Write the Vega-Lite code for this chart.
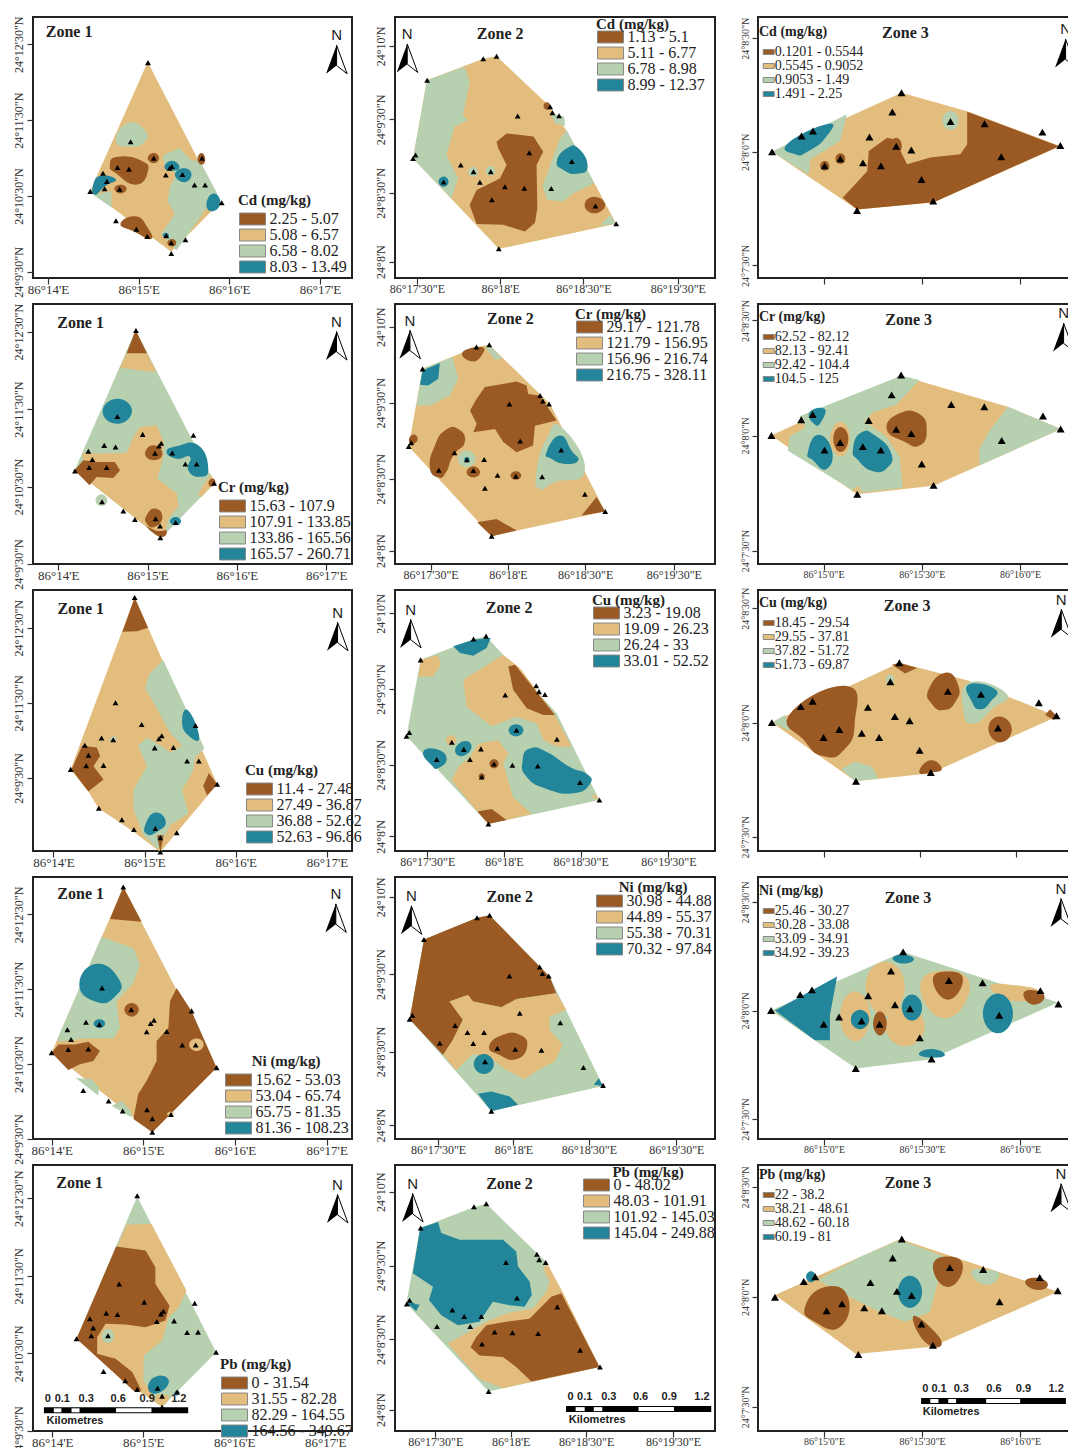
{"$schema":"https://vega.github.io/schema/vega-lite/v6.json","background":"white","padding":{"left":10,"top":15,"right":0,"bottom":0},"bounds":"flush","columns":3,"spacing":{"row":26,"column":43},"resolve":{"scale":{"fill":"independent"}},
"params":[{"name":"lx1","value":["86°14'E","86°15'E","86°16'E","86°17'E"]},{"name":"ly1","value":["24°9'30\"N","24°10'30\"N","24°11'30\"N","24°12'30\"N"]},{"name":"lx2","value":["86°17'30\"E","86°18'E","86°18'30\"E","86°19'30\"E"]},{"name":"ly2","value":["24°8'N","24°8'30\"N","24°9'30\"N","24°10'N"]},{"name":"lx3","value":["86°15'0\"E","86°15'30\"E","86°16'0\"E"]},{"name":"ly3","value":["24°7'30\"N","24°8'0\"N","24°8'30\"N"]}],
"config":{"view":{"stroke":"#222","strokeWidth":2,"fill":"white"},"range":{"category":["#9B5A23","#E2BD7D","#B7D1B0","#23859A"]},"line":{"tension":-0.6},"point":{"shape":"triangle-up","filled":true,"color":"#000","opacity":1,"size":34},"text":{"font":"Liberation Serif","fontWeight":"bold","fontSize":16,"align":"center","baseline":"middle","color":"#222"},"axis":{"grid":false,"domain":false,"title":null,"tickColor":"#333","tickSize":6,"tickWidth":1.2,"labelFont":"Liberation Serif","labelColor":"#333","labelOverlap":false,"labelFlush":false,"labelBound":false,"labelPadding":2},"axisX":{"labelFontSize":13,"labelPadding":-1},"axisY":{"labelFontSize":12,"labelAngle":270},"legend":{"orient":"none","titleFont":"Liberation Serif","titleFontWeight":"bold","titleFontSize":15,"titleColor":"#222","labelFont":"Liberation Serif","labelFontSize":16,"labelColor":"#222","symbolType":"M-2,-.92H2V.92H-2Z","symbolSize":169,"symbolStrokeColor":"#888","symbolStrokeWidth":1,"symbolOffset":6.5,"rowPadding":-1.6,"titlePadding":3,"labelOffset":9,"padding":0,"labelOverlap":false,"labelLimit":200}},
"concat":[
{"width":319,"height":261,"encoding":{"x":{"field":"x","type":"quantitative","scale":{"domain":[830.1,1041.2],"nice":false,"zero":false},"axis":{"values":[840,900,960,1020],"labelExpr":"lx1[round(datum.index*3)]"}},"y":{"field":"y","type":"quantitative","scale":{"domain":[565.2,771.6],"nice":false,"zero":false},"axis":{"values":[750,690,630,570],"labelExpr":"ly1[round(datum.index*3)]"}}},"layer":[
{"encoding":{"fill":{"field":"c","type":"nominal","scale":{"domain":[1,2,3,4]},"legend":{"legendX":205,"legendY":176,"title":"Cd (mg/kg)","labelExpr":"['2.25 - 5.07','5.08 - 6.57','6.58 - 8.02','8.03 - 13.49'][datum.value-1]"}},"detail":{"field":"s"},"order":{"value":null}},"layer":[
{"data":{"values":[{"s":1,"c":2,"x":906,"y":736},{"s":1,"c":2,"x":954,"y":625},{"s":1,"c":2,"x":921.5,"y":586},{"s":1,"c":2,"x":868,"y":634},
{"s":2,"c":3,"x":916,"y":662},{"s":2,"c":3,"x":927,"y":668},{"s":2,"c":3,"x":935,"y":658},{"s":2,"c":3,"x":940.5,"y":658},{"s":2,"c":3,"x":952,"y":632},{"s":2,"c":3,"x":925,"y":587},{"s":2,"c":3,"x":915,"y":600},{"s":2,"c":3,"x":924,"y":616},{"s":2,"c":3,"x":919,"y":626},{"s":2,"c":3,"x":921,"y":638},{"s":2,"c":3,"x":925,"y":647},{"s":2,"c":3,"x":917,"y":655},
{"s":3,"c":3,"x":870,"y":631},{"s":3,"c":3,"x":882,"y":634},{"s":3,"c":3,"x":882,"y":621}]},"mark":{"type":"line","stroke":null}},
{"data":{"values":[{"s":1,"c":3,"x":885,"y":674},{"s":1,"c":3,"x":893,"y":688},{"s":1,"c":3,"x":904,"y":682},{"s":1,"c":3,"x":904,"y":673},{"s":1,"c":3,"x":894,"y":669},
{"s":2,"c":1,"x":881,"y":654},{"s":2,"c":1,"x":886,"y":661},{"s":2,"c":1,"x":902,"y":658},{"s":2,"c":1,"x":906,"y":649},{"s":2,"c":1,"x":898,"y":639},{"s":2,"c":1,"x":885,"y":648},
{"s":3,"c":1,"x":906,"y":660},{"s":3,"c":1,"x":910,"y":664},{"s":3,"c":1,"x":913.5,"y":660},{"s":3,"c":1,"x":910,"y":656},
{"s":4,"c":1,"x":884,"y":636},{"s":4,"c":1,"x":888,"y":639},{"s":4,"c":1,"x":892,"y":636},{"s":4,"c":1,"x":888,"y":632},
{"s":5,"c":1,"x":888,"y":608},{"s":5,"c":1,"x":898,"y":614},{"s":5,"c":1,"x":906,"y":605},{"s":5,"c":1,"x":908,"y":596},{"s":5,"c":1,"x":897,"y":602},
{"s":6,"c":1,"x":919,"y":593},{"s":6,"c":1,"x":922,"y":596},{"s":6,"c":1,"x":925,"y":593},{"s":6,"c":1,"x":922,"y":590},
{"s":7,"c":1,"x":939,"y":660},{"s":7,"c":1,"x":942,"y":664},{"s":7,"c":1,"x":944,"y":658},{"s":7,"c":1,"x":941,"y":655},
{"s":8,"c":4,"x":870,"y":639},{"s":8,"c":4,"x":875,"y":646},{"s":8,"c":4,"x":885,"y":643},{"s":8,"c":4,"x":878,"y":638},{"s":8,"c":4,"x":871,"y":631},
{"s":9,"c":4,"x":917,"y":653},{"s":9,"c":4,"x":922,"y":658},{"s":9,"c":4,"x":927,"y":653},{"s":9,"c":4,"x":922,"y":650},
{"s":10,"c":4,"x":924,"y":647},{"s":10,"c":4,"x":930,"y":652},{"s":10,"c":4,"x":935,"y":647},{"s":10,"c":4,"x":930,"y":641},
{"s":11,"c":4,"x":945,"y":625},{"s":11,"c":4,"x":950,"y":632},{"s":11,"c":4,"x":954,"y":624},{"s":11,"c":4,"x":948,"y":618},
{"s":12,"c":4,"x":916,"y":599},{"s":12,"c":4,"x":918,"y":601},{"s":12,"c":4,"x":920,"y":599},{"s":12,"c":4,"x":918,"y":597}]},"mark":{"type":"line","stroke":null,"interpolate":"cardinal-closed"}}]},
{"data":{"values":[{"x":906.2,"y":735.5},{"x":894.7,"y":673},{"x":910,"y":660},{"x":942,"y":660},{"x":886,"y":652.6},{"x":893.6,"y":651.3},{"x":922,"y":653.4},{"x":920.5,"y":652},{"x":918,"y":646.6},{"x":929,"y":647},{"x":876.4,"y":648},{"x":879,"y":641.6},{"x":877.5,"y":635.8},{"x":887.4,"y":635.5},{"x":868,"y":633.7},{"x":937,"y":638.7},{"x":944,"y":638.7},{"x":955,"y":624.7},{"x":885,"y":610.5},{"x":898.5,"y":603.7},{"x":905.7,"y":598},{"x":918.3,"y":598.7},{"x":921.6,"y":593},{"x":931,"y":595.5},{"x":921.6,"y":584.5}]},"mark":"point"},
{"data":{"values":[{"x":854,"y":760,"t":"Zone 1"}]},"mark":"text","encoding":{"text":{"field":"t"}}},
{"data":{"values":[{"x":1031,"y":738}]},"layer":[{"mark":{"type":"text","text":"N","dy":-24,"font":"Liberation Sans","fontWeight":"normal","fontSize":15}},{"mark":{"type":"point","shape":"M0,-.95L-.7,.95L0,.4Z","size":900}},{"mark":{"type":"point","shape":"M0,-.95L.7,.95L0,.4Z","size":900,"filled":false,"stroke":"#000","strokeWidth":1}}]}
]},
{"width":320,"height":261,"encoding":{"x":{"field":"x","type":"quantitative","scale":{"domain":[1042.1,1157.4],"nice":false,"zero":false},"axis":{"values":[1050,1080,1110,1144],"labelExpr":"lx2[round(datum.index*3)]","labelFontSize":12}},"y":{"field":"y","type":"quantitative","scale":{"domain":[505.3,611.8],"nice":false,"zero":false},"axis":{"values":[600,570,540,512],"labelExpr":"ly2[round(datum.index*3)]"}}},"layer":[
{"encoding":{"fill":{"field":"c","type":"nominal","scale":{"domain":[1,2,3,4]},"legend":{"legendX":201,"legendY":0,"rowPadding":-3,"titlePadding":-3,"title":"Cd (mg/kg)","labelExpr":"['1.13 - 5.1','5.11 - 6.77','6.78 - 8.98','8.99 - 12.37'][datum.value-1]"}},"detail":{"field":"s"},"order":{"value":null}},"layer":[
{"data":{"values":[{"s":1,"c":2,"x":1078.7,"y":595.8},{"s":1,"c":2,"x":1098,"y":575.2},{"s":1,"c":2,"x":1103.4,"y":566.3},{"s":1,"c":2,"x":1121.8,"y":527.4},{"s":1,"c":2,"x":1079.5,"y":517.2},{"s":1,"c":2,"x":1048.6,"y":554.1},{"s":1,"c":2,"x":1053.6,"y":586},{"s":1,"c":2,"x":1073.9,"y":594.8},
{"s":2,"c":3,"x":1053.6,"y":586},{"s":2,"c":3,"x":1067.2,"y":591.5},{"s":2,"c":3,"x":1069,"y":585.3},{"s":2,"c":3,"x":1066.6,"y":571.8},{"s":2,"c":3,"x":1068.4,"y":569.7},{"s":2,"c":3,"x":1063.6,"y":567},{"s":2,"c":3,"x":1060.6,"y":555.5},{"s":2,"c":3,"x":1064.8,"y":546},{"s":2,"c":3,"x":1062.4,"y":537.8},{"s":2,"c":3,"x":1048.6,"y":554.1},
{"s":3,"c":3,"x":1101.6,"y":562.3},{"s":3,"c":3,"x":1104,"y":565.7},{"s":3,"c":3,"x":1113.9,"y":544},{"s":3,"c":3,"x":1106.4,"y":539.9},{"s":3,"c":3,"x":1102.8,"y":536.5},{"s":3,"c":3,"x":1096.8,"y":537.2},{"s":3,"c":3,"x":1095.3,"y":542.6},{"s":3,"c":3,"x":1098,"y":551.4},
{"s":4,"c":1,"x":1078.7,"y":560.9},{"s":4,"c":1,"x":1082.3,"y":564.3},{"s":4,"c":1,"x":1092,"y":563},{"s":4,"c":1,"x":1095.5,"y":556.8},{"s":4,"c":1,"x":1093.1,"y":551.4},{"s":4,"c":1,"x":1093.4,"y":533.8},{"s":4,"c":1,"x":1092.5,"y":527.7},{"s":4,"c":1,"x":1088.9,"y":524.3},{"s":4,"c":1,"x":1081.1,"y":527},{"s":4,"c":1,"x":1071.5,"y":527.3},{"s":4,"c":1,"x":1069,"y":535.1},{"s":4,"c":1,"x":1071.5,"y":541.2},{"s":4,"c":1,"x":1079.9,"y":545.9},{"s":4,"c":1,"x":1082.3,"y":551.4},{"s":4,"c":1,"x":1079.3,"y":558.2},
{"s":5,"c":3,"x":1116,"y":526.7},{"s":5,"c":3,"x":1119.6,"y":531},{"s":5,"c":3,"x":1121.8,"y":527.4},
{"s":6,"c":3,"x":1098,"y":572.5},{"s":6,"c":3,"x":1103.1,"y":571.1},{"s":6,"c":3,"x":1103.4,"y":567.4},{"s":6,"c":3,"x":1099.8,"y":568.4}]},"mark":{"type":"line","stroke":null}},
{"data":{"values":[{"s":1,"c":4,"x":1100.4,"y":552.8},{"s":1,"c":4,"x":1104,"y":558.2},{"s":1,"c":4,"x":1108.2,"y":558.2},{"s":1,"c":4,"x":1111.5,"y":550.7},{"s":1,"c":4,"x":1107.6,"y":547.8},{"s":1,"c":4,"x":1102.8,"y":549.4},
{"s":2,"c":1,"x":1110.4,"y":535.1},{"s":2,"c":1,"x":1113.9,"y":538.5},{"s":2,"c":1,"x":1117.8,"y":535.1},{"s":2,"c":1,"x":1113.9,"y":531.7},
{"s":3,"c":4,"x":1057.8,"y":544.6},{"s":3,"c":4,"x":1059.6,"y":546.7},{"s":3,"c":4,"x":1061.4,"y":544.6},{"s":3,"c":4,"x":1059.6,"y":542.5},
{"s":4,"c":3,"x":1068.5,"y":548.7},{"s":4,"c":3,"x":1070.2,"y":550.7},{"s":4,"c":3,"x":1071.9,"y":548.7},{"s":4,"c":3,"x":1070.2,"y":546.7},
{"s":5,"c":3,"x":1074.8,"y":549},{"s":5,"c":3,"x":1076.5,"y":551},{"s":5,"c":3,"x":1078.2,"y":549},{"s":5,"c":3,"x":1076.5,"y":547},
{"s":6,"c":1,"x":1095.6,"y":575.5},{"s":6,"c":1,"x":1096.8,"y":577},{"s":6,"c":1,"x":1098,"y":575.5},{"s":6,"c":1,"x":1096.8,"y":574}]},"mark":{"type":"line","stroke":null,"interpolate":"cardinal-closed"}}]},
{"data":{"values":[{"x":1078.7,"y":595.8},{"x":1073.9,"y":594.8},{"x":1053.7,"y":586},{"x":1098,"y":575.2},{"x":1098.8,"y":572.7},{"x":1101.2,"y":571.5},{"x":1086.3,"y":571.4},{"x":1090.5,"y":556.4},{"x":1049.5,"y":555.5},{"x":1048.6,"y":554.1},{"x":1105.8,"y":552.8},{"x":1065.8,"y":551.4},{"x":1070.4,"y":548.7},{"x":1076.6,"y":548.7},{"x":1072.7,"y":544.4},{"x":1059.6,"y":544.5},{"x":1081.7,"y":542.5},{"x":1088.7,"y":541.9},{"x":1098.4,"y":541.8},{"x":1077,"y":537.2},{"x":1114.3,"y":534.7},{"x":1121.8,"y":527.4},{"x":1079.5,"y":517.2}]},"mark":"point"},
{"data":{"values":[{"x":1080,"y":605,"t":"Zone 2"}]},"mark":"text","encoding":{"text":{"field":"t"}}},
{"data":{"values":[{"x":1046.5,"y":595}]},"layer":[{"mark":{"type":"text","text":"N","dy":-24,"font":"Liberation Sans","fontWeight":"normal","fontSize":15}},{"mark":{"type":"point","shape":"M0,-.95L-.7,.95L0,.4Z","size":900}},{"mark":{"type":"point","shape":"M0,-.95L.7,.95L0,.4Z","size":900,"filled":false,"stroke":"#000","strokeWidth":1}}]}
]},
{"width":320,"height":261,"encoding":{"x":{"field":"x","type":"quantitative","scale":{"domain":[879.9,977.8],"nice":false,"zero":false},"axis":{"values":[900,930,960],"labels":false}},"y":{"field":"y","type":"quantitative","scale":{"domain":[446.7,515.6],"nice":false,"zero":false},"axis":{"values":[510,480,450],"labelExpr":"ly3[round(datum.index*2)]","labelFontSize":10}}},"layer":[
{"encoding":{"fill":{"field":"c","type":"nominal","scale":{"domain":[1,2,3,4]},"legend":{"legendX":1,"legendY":8,"title":"Cd (mg/kg)","titleFontSize":14,"titlePadding":6,"labelFontSize":14,"rowPadding":0,"symbolSize":30,"symbolOffset":2.7,"labelOffset":-1,"labelExpr":"['0.1201 - 0.5544','0.5545 - 0.9052','0.9053 - 1.49','1.491 - 2.25'][datum.value-1]"}},"detail":{"field":"s"},"order":{"value":null}},"layer":[
{"data":{"values":[{"s":1,"c":2,"x":923.8,"y":495.6},{"s":1,"c":2,"x":944.4,"y":490.6},{"s":1,"c":2,"x":972.4,"y":481.5},{"s":1,"c":2,"x":933.7,"y":466.7},{"s":1,"c":2,"x":910.2,"y":464.8},{"s":1,"c":2,"x":884.2,"y":480},
{"s":2,"c":1,"x":943.9,"y":490.6},{"s":2,"c":1,"x":972,"y":481.5},{"s":2,"c":1,"x":933.7,"y":466.7},{"s":2,"c":1,"x":910.2,"y":464.8},{"s":2,"c":1,"x":905.8,"y":467.9},{"s":2,"c":1,"x":913.3,"y":474.9},{"s":2,"c":1,"x":913.8,"y":480.2},{"s":2,"c":1,"x":919.4,"y":483.7},{"s":2,"c":1,"x":923.5,"y":482.9},{"s":2,"c":1,"x":923.5,"y":480.2},{"s":2,"c":1,"x":925.5,"y":476.7},{"s":2,"c":1,"x":932.6,"y":478.5},{"s":2,"c":1,"x":941.8,"y":479.4},{"s":2,"c":1,"x":943.9,"y":482},
{"s":3,"c":3,"x":884.2,"y":480},{"s":3,"c":3,"x":907.1,"y":489.9},{"s":3,"c":3,"x":905.1,"y":482.9},{"s":3,"c":3,"x":895.9,"y":478},{"s":3,"c":3,"x":895.4,"y":474}]},"mark":{"type":"line","stroke":null}},
{"data":{"values":[{"s":1,"c":4,"x":889,"y":482.2},{"s":1,"c":4,"x":901.5,"y":487.4},{"s":1,"c":4,"x":900.5,"y":483.7},{"s":1,"c":4,"x":895.4,"y":480.2},{"s":1,"c":4,"x":891.5,"y":479.3},
{"s":2,"c":3,"x":936.3,"y":488.3},{"s":2,"c":3,"x":938.8,"y":490.8},{"s":2,"c":3,"x":941.3,"y":488.3},{"s":2,"c":3,"x":938.8,"y":485.8},
{"s":3,"c":1,"x":903.6,"y":478.2},{"s":3,"c":1,"x":905.1,"y":479.6},{"s":3,"c":1,"x":906.6,"y":478.2},{"s":3,"c":1,"x":905.1,"y":476.8},
{"s":4,"c":1,"x":898.9,"y":476.3},{"s":4,"c":1,"x":900.3,"y":477.6},{"s":4,"c":1,"x":901.7,"y":476.3},{"s":4,"c":1,"x":900.3,"y":475},
{"s":5,"c":1,"x":920.5,"y":481.5},{"s":5,"c":1,"x":922.2,"y":483.7},{"s":5,"c":1,"x":923.9,"y":481.5},{"s":5,"c":1,"x":922.2,"y":479.8}]},"mark":{"type":"line","stroke":null,"interpolate":"cardinal-closed"}}]},
{"data":{"values":[{"x":923.8,"y":495.6},{"x":921,"y":490.5},{"x":938.8,"y":488},{"x":949.2,"y":487.4},{"x":896.7,"y":485.5},{"x":893.2,"y":484.2},{"x":914,"y":483.9},{"x":966.9,"y":485.2},{"x":922.2,"y":481.5},{"x":926.8,"y":480.5},{"x":884.2,"y":480},{"x":972.4,"y":481.7},{"x":905.1,"y":478.2},{"x":912,"y":477.1},{"x":900.3,"y":476.3},{"x":917.5,"y":476.3},{"x":954.3,"y":478.7},{"x":929.9,"y":472.7},{"x":933.5,"y":467},{"x":910.2,"y":464.5}]},"mark":{"type":"point","size":64}},
{"data":{"values":[{"x":925,"y":511.5,"t":"Zone 3"}]},"mark":"text","encoding":{"text":{"field":"t"}}},
{"data":{"values":[{"x":974,"y":506}]},"layer":[{"mark":{"type":"text","text":"N","dy":-24,"font":"Liberation Sans","fontWeight":"normal","fontSize":15}},{"mark":{"type":"point","shape":"M0,-.95L-.7,.95L0,.4Z","size":900}},{"mark":{"type":"point","shape":"M0,-.95L.7,.95L0,.4Z","size":900,"filled":false,"stroke":"#000","strokeWidth":1}}]}
]},
{"width":319,"height":260,"encoding":{"x":{"field":"x","type":"quantitative","scale":{"domain":[823,1037.4],"nice":false,"zero":false},"axis":{"values":[840,900,960,1020],"labelExpr":"lx1[round(datum.index*3)]"}},"y":{"field":"y","type":"quantitative","scale":{"domain":[570,771.4],"nice":false,"zero":false},"axis":{"values":[750,690,630,570],"labelExpr":"ly1[round(datum.index*3)]"}}},"layer":[
{"encoding":{"fill":{"field":"c","type":"nominal","scale":{"domain":[1,2,3,4]},"legend":{"legendX":185,"legendY":176,"title":"Cr (mg/kg)","labelExpr":"['15.63 - 107.9','107.91 - 133.85','133.86 - 165.56','165.57 - 260.71'][datum.value-1]"}},"detail":{"field":"s"},"order":{"value":null}},"layer":[
{"data":{"values":[{"s":1,"c":3,"x":892,"y":751},{"s":1,"c":3,"x":945,"y":632.8},{"s":1,"c":3,"x":909,"y":590},{"s":1,"c":3,"x":851,"y":642.6},
{"s":2,"c":1,"x":892,"y":751},{"s":2,"c":1,"x":899.7,"y":733},{"s":2,"c":1,"x":885.8,"y":733},
{"s":3,"c":2,"x":885.8,"y":733},{"s":3,"c":2,"x":899.7,"y":733},{"s":3,"c":2,"x":906,"y":718.6},{"s":3,"c":2,"x":881.5,"y":722},
{"s":4,"c":2,"x":894.9,"y":676.1},{"s":4,"c":2,"x":906,"y":677.4},{"s":4,"c":2,"x":910.6,"y":665.8},{"s":4,"c":2,"x":910.6,"y":653},{"s":4,"c":2,"x":906.6,"y":636.2},{"s":4,"c":2,"x":919.6,"y":624.6},{"s":4,"c":2,"x":920.7,"y":614.3},{"s":4,"c":2,"x":914,"y":605.3},{"s":4,"c":2,"x":911.7,"y":593},{"s":4,"c":2,"x":908.8,"y":590},{"s":4,"c":2,"x":861,"y":633.6},{"s":4,"c":2,"x":855.7,"y":655.5},{"s":4,"c":2,"x":868,"y":655.5},{"s":4,"c":2,"x":886,"y":656},{"s":4,"c":2,"x":890.4,"y":668.4},
{"s":5,"c":2,"x":942.4,"y":640},{"s":5,"c":2,"x":945,"y":632.8},{"s":5,"c":2,"x":936,"y":621.5},{"s":5,"c":2,"x":934,"y":624.6},
{"s":6,"c":1,"x":851,"y":642.6},{"s":6,"c":1,"x":856.8,"y":650.3},{"s":6,"c":1,"x":865.8,"y":649},{"s":6,"c":1,"x":878,"y":649},{"s":6,"c":1,"x":881.5,"y":642.6},{"s":6,"c":1,"x":877,"y":636.6},{"s":6,"c":1,"x":865.8,"y":637.3},{"s":6,"c":1,"x":861,"y":631}]},"mark":{"type":"line","stroke":null}},
{"data":{"values":[{"s":1,"c":4,"x":869.8,"y":687.7},{"s":1,"c":4,"x":879.2,"y":698},{"s":1,"c":4,"x":889.5,"y":689},{"s":1,"c":4,"x":880,"y":678.6},
{"s":2,"c":1,"x":898.3,"y":655.5},{"s":2,"c":1,"x":903.9,"y":662},{"s":2,"c":1,"x":910,"y":655.5},{"s":2,"c":1,"x":904.3,"y":650.3},
{"s":3,"c":4,"x":912.8,"y":656.8},{"s":3,"c":4,"x":919.6,"y":661.2},{"s":3,"c":4,"x":934,"y":662},{"s":3,"c":4,"x":940.8,"y":644},{"s":3,"c":4,"x":935.2,"y":637.5},{"s":3,"c":4,"x":927.4,"y":642.6},{"s":3,"c":4,"x":928.5,"y":653},{"s":3,"c":4,"x":919.6,"y":651.6},
{"s":4,"c":1,"x":899.4,"y":607.9},{"s":4,"c":1,"x":905,"y":613},{"s":4,"c":1,"x":910,"y":606.6},{"s":4,"c":1,"x":905,"y":598.8},{"s":4,"c":1,"x":899.4,"y":601.4},
{"s":5,"c":1,"x":899.4,"y":598.9},{"s":5,"c":1,"x":906,"y":595.8},{"s":5,"c":1,"x":912.8,"y":595.8},{"s":5,"c":1,"x":908.8,"y":591},
{"s":6,"c":4,"x":915,"y":603.2},{"s":6,"c":4,"x":918.9,"y":606.5},{"s":6,"c":4,"x":922.5,"y":603.2},{"s":6,"c":4,"x":918.9,"y":600},
{"s":7,"c":3,"x":865,"y":619},{"s":7,"c":3,"x":869,"y":624},{"s":7,"c":3,"x":873,"y":619},{"s":7,"c":3,"x":869,"y":615},
{"s":8,"c":1,"x":941,"y":633.6},{"s":8,"c":1,"x":944,"y":636.2},{"s":8,"c":1,"x":945.5,"y":632.5},{"s":8,"c":1,"x":942.5,"y":630}]},"mark":{"type":"line","stroke":null,"interpolate":"cardinal-closed"}}]},
{"data":{"values":[{"x":892.2,"y":750.8},{"x":896.7,"y":670.4},{"x":930.8,"y":669.7},{"x":870.9,"y":661.9},{"x":878.5,"y":660.6},{"x":909.2,"y":663.5},{"x":907.7,"y":661.4},{"x":860.2,"y":657.3},{"x":862.9,"y":650.9},{"x":916.6,"y":656},{"x":905,"y":655.8},{"x":860.8,"y":644.7},{"x":872.5,"y":644.7},{"x":925.4,"y":647.5},{"x":933,"y":647.5},{"x":851.2,"y":642.1},{"x":944.7,"y":632.6},{"x":879.7,"y":684.3},{"x":869.4,"y":618.2},{"x":883.7,"y":611},{"x":891.5,"y":604.5},{"x":905.4,"y":605},{"x":908.4,"y":599.4},{"x":918.9,"y":602.2},{"x":908.6,"y":590.4}]},"mark":"point"},
{"data":{"values":[{"x":855,"y":757,"t":"Zone 1"}]},"mark":"text","encoding":{"text":{"field":"t"}}},
{"data":{"values":[{"x":1027,"y":739}]},"layer":[{"mark":{"type":"text","text":"N","dy":-24,"font":"Liberation Sans","fontWeight":"normal","fontSize":15}},{"mark":{"type":"point","shape":"M0,-.95L-.7,.95L0,.4Z","size":900}},{"mark":{"type":"point","shape":"M0,-.95L.7,.95L0,.4Z","size":900,"filled":false,"stroke":"#000","strokeWidth":1}}]}
]},
{"width":320,"height":260,"encoding":{"x":{"field":"x","type":"quantitative","scale":{"domain":[1036.2,1160.4],"nice":false,"zero":false},"axis":{"values":[1050,1080,1110,1144.4],"labelExpr":"lx2[round(datum.index*3)]","labelFontSize":12}},"y":{"field":"y","type":"quantitative","scale":{"domain":[506.4,609],"nice":false,"zero":false},"axis":{"values":[600,570,540,511.7],"labelExpr":"ly2[round(datum.index*3)]"}}},"layer":[
{"encoding":{"fill":{"field":"c","type":"nominal","scale":{"domain":[1,2,3,4]},"legend":{"legendX":180,"legendY":3,"rowPadding":-3,"titlePadding":-3,"title":"Cr (mg/kg)","labelExpr":"['29.17 - 121.78','121.79 - 156.95','156.96 - 216.74','216.75 - 328.11'][datum.value-1]"}},"detail":{"field":"s"},"order":{"value":null}},"layer":[
{"data":{"values":[{"s":1,"c":2,"x":1072.8,"y":592.9},{"s":1,"c":2,"x":1096.3,"y":569.6},{"s":1,"c":2,"x":1117.8,"y":527.1},{"s":1,"c":2,"x":1073.7,"y":517.4},{"s":1,"c":2,"x":1041.5,"y":552.8},{"s":1,"c":2,"x":1046.9,"y":583.4},{"s":1,"c":2,"x":1067.8,"y":592},
{"s":2,"c":3,"x":1071.1,"y":592},{"s":2,"c":3,"x":1072.8,"y":592.9},{"s":2,"c":3,"x":1077.9,"y":587.4},{"s":2,"c":3,"x":1075,"y":587.1},
{"s":3,"c":3,"x":1046.9,"y":583.4},{"s":3,"c":3,"x":1058.5,"y":588},{"s":3,"c":3,"x":1060.7,"y":579.5},{"s":3,"c":3,"x":1057.5,"y":572.9},{"s":3,"c":3,"x":1049.7,"y":568.9},{"s":3,"c":3,"x":1044.6,"y":568.9},
{"s":4,"c":4,"x":1046.9,"y":582.8},{"s":4,"c":4,"x":1053.6,"y":585.7},{"s":4,"c":4,"x":1053,"y":579.5},{"s":4,"c":4,"x":1049.1,"y":576.8},{"s":4,"c":4,"x":1045.9,"y":577.1},
{"s":5,"c":1,"x":1071.1,"y":576.2},{"s":5,"c":1,"x":1083.4,"y":578.4},{"s":5,"c":1,"x":1087.3,"y":576.8},{"s":5,"c":1,"x":1087.9,"y":573.5},{"s":5,"c":1,"x":1092.4,"y":572.9},{"s":5,"c":1,"x":1098.9,"y":563},{"s":5,"c":1,"x":1090.5,"y":561},{"s":5,"c":1,"x":1089.8,"y":553.2},{"s":5,"c":1,"x":1083.4,"y":550.5},{"s":5,"c":1,"x":1078.2,"y":554.5},{"s":5,"c":1,"x":1075,"y":559.7},{"s":5,"c":1,"x":1066.6,"y":558.4},{"s":5,"c":1,"x":1067.9,"y":561.7},{"s":5,"c":1,"x":1065.3,"y":567},{"s":5,"c":1,"x":1067.9,"y":571.6},
{"s":6,"c":1,"x":1108.6,"y":525.5},{"s":6,"c":1,"x":1114.4,"y":532.8},{"s":6,"c":1,"x":1117.8,"y":527.1},
{"s":7,"c":1,"x":1068.1,"y":522.9},{"s":7,"c":1,"x":1075.6,"y":524.2},{"s":7,"c":1,"x":1083.4,"y":519.6},{"s":7,"c":1,"x":1073.7,"y":517.4}]},"mark":{"type":"line","stroke":null}},
{"data":{"values":[{"s":1,"c":1,"x":1062.4,"y":590},{"s":1,"c":1,"x":1069.8,"y":592},{"s":1,"c":1,"x":1069.8,"y":588.7},{"s":1,"c":1,"x":1065.9,"y":586.4},
{"s":2,"c":1,"x":1051.7,"y":553.2},{"s":2,"c":1,"x":1055.6,"y":559.1},{"s":2,"c":1,"x":1060.7,"y":559.7},{"s":2,"c":1,"x":1063.3,"y":554.5},{"s":2,"c":1,"x":1058.8,"y":549.2},{"s":2,"c":1,"x":1056,"y":542.6},{"s":2,"c":1,"x":1053,"y":540.6},{"s":2,"c":1,"x":1049.7,"y":544.6},
{"s":3,"c":3,"x":1091.1,"y":542.6},{"s":3,"c":3,"x":1095,"y":555.8},{"s":3,"c":3,"x":1100.8,"y":560.4},{"s":3,"c":3,"x":1109.9,"y":543.3},{"s":3,"c":3,"x":1098.2,"y":538.7},{"s":3,"c":3,"x":1092.4,"y":536},
{"s":4,"c":4,"x":1095,"y":550.5},{"s":4,"c":4,"x":1100.2,"y":557.1},{"s":4,"c":4,"x":1104.7,"y":551.2},{"s":4,"c":4,"x":1107.3,"y":547.2},{"s":4,"c":4,"x":1102.1,"y":545.9},{"s":4,"c":4,"x":1096.9,"y":547.9},
{"s":5,"c":3,"x":1060.5,"y":547.9},{"s":5,"c":3,"x":1064,"y":551.2},{"s":5,"c":3,"x":1067.5,"y":547.9},{"s":5,"c":3,"x":1064,"y":544.6},
{"s":6,"c":4,"x":1063,"y":547.5},{"s":6,"c":4,"x":1064.1,"y":548.6},{"s":6,"c":4,"x":1065.2,"y":547.5},{"s":6,"c":4,"x":1064.1,"y":546.4},
{"s":7,"c":1,"x":1064,"y":542.6},{"s":7,"c":1,"x":1066.6,"y":545},{"s":7,"c":1,"x":1069.2,"y":542.6},{"s":7,"c":1,"x":1066.6,"y":540.6},
{"s":8,"c":1,"x":1081,"y":541.3},{"s":8,"c":1,"x":1083.1,"y":543},{"s":8,"c":1,"x":1085.2,"y":541.3},{"s":8,"c":1,"x":1083.1,"y":539.6},
{"s":9,"c":1,"x":1041.6,"y":555.5},{"s":9,"c":1,"x":1043.5,"y":557.5},{"s":9,"c":1,"x":1045,"y":555.5},{"s":9,"c":1,"x":1043,"y":553.8}]},"mark":{"type":"line","stroke":null,"interpolate":"cardinal-closed"}}]},
{"data":{"values":[{"x":1072.8,"y":592.9},{"x":1067.8,"y":592},{"x":1046.9,"y":583.4},{"x":1092.5,"y":572.9},{"x":1093.6,"y":570.7},{"x":1096,"y":569.5},{"x":1080.6,"y":569.5},{"x":1084.8,"y":554.9},{"x":1042.5,"y":554.3},{"x":1041.5,"y":552.8},{"x":1100.7,"y":551.4},{"x":1059.3,"y":550.3},{"x":1064.1,"y":547.5},{"x":1070.8,"y":547.6},{"x":1053.2,"y":543.4},{"x":1066.6,"y":543.3},{"x":1076,"y":541.4},{"x":1083.1,"y":541},{"x":1093.3,"y":540.8},{"x":1071.1,"y":536.3},{"x":1109.9,"y":533.9},{"x":1117.8,"y":527.1},{"x":1073.7,"y":517.4}]},"mark":"point"},
{"data":{"values":[{"x":1081,"y":603,"t":"Zone 2"}]},"mark":"text","encoding":{"text":{"field":"t"}}},
{"data":{"values":[{"x":1042,"y":593}]},"layer":[{"mark":{"type":"text","text":"N","dy":-24,"font":"Liberation Sans","fontWeight":"normal","fontSize":15}},{"mark":{"type":"point","shape":"M0,-.95L-.7,.95L0,.4Z","size":900}},{"mark":{"type":"point","shape":"M0,-.95L.7,.95L0,.4Z","size":900,"filled":false,"stroke":"#000","strokeWidth":1}}]}
]},
{"width":320,"height":260,"encoding":{"x":{"field":"x","type":"quantitative","scale":{"domain":[880,977.7],"nice":false,"zero":false},"axis":{"values":[900,930,960],"labelExpr":"lx3[round(datum.index*2)]","labelFontSize":10}},"y":{"field":"y","type":"quantitative","scale":{"domain":[446.5,514.3],"nice":false,"zero":false},"axis":{"values":[510,480,450],"labelExpr":"ly3[round(datum.index*2)]","labelFontSize":10}}},"layer":[
{"encoding":{"fill":{"field":"c","type":"nominal","scale":{"domain":[1,2,3,4]},"legend":{"legendX":1,"legendY":6,"title":"Cr (mg/kg)","titleFontSize":14,"titlePadding":6,"labelFontSize":14,"rowPadding":0,"symbolSize":30,"symbolOffset":2.7,"labelOffset":-1,"labelExpr":"['62.52 - 82.12','82.13 - 92.41','92.42 - 104.4','104.5 - 125'][datum.value-1]"}},"detail":{"field":"s"},"order":{"value":null}},"layer":[
{"data":{"values":[{"s":1,"c":2,"x":923.7,"y":495.6},{"s":1,"c":2,"x":956.3,"y":487.5},{"s":1,"c":2,"x":972.5,"y":481.7},{"s":1,"c":2,"x":933.6,"y":466.9},{"s":1,"c":2,"x":910.3,"y":464.7},{"s":1,"c":2,"x":884,"y":480},
{"s":2,"c":3,"x":923.7,"y":495.6},{"s":2,"c":3,"x":929.3,"y":494.5},{"s":2,"c":3,"x":922.2,"y":488},{"s":2,"c":3,"x":915,"y":486},{"s":2,"c":3,"x":912.5,"y":483.6},{"s":2,"c":3,"x":919.1,"y":479.8},{"s":2,"c":3,"x":923.2,"y":474.5},{"s":2,"c":3,"x":924.2,"y":466.4},{"s":2,"c":3,"x":910.3,"y":465},{"s":2,"c":3,"x":889.1,"y":476},{"s":2,"c":3,"x":889.6,"y":479.8},{"s":2,"c":3,"x":894.5,"y":482},{"s":2,"c":3,"x":892.7,"y":485},
{"s":3,"c":3,"x":956.3,"y":487.5},{"s":3,"c":3,"x":972.5,"y":481.7},{"s":3,"c":3,"x":947.6,"y":472.2},{"s":3,"c":3,"x":947.6,"y":476.5},{"s":3,"c":3,"x":950.6,"y":481.2},
{"s":4,"c":2,"x":908.4,"y":465.5},{"s":4,"c":2,"x":910.5,"y":467},{"s":4,"c":2,"x":912,"y":465.2}]},"mark":{"type":"line","stroke":null}},
{"data":{"values":[{"s":1,"c":4,"x":895.7,"y":486},{"s":1,"c":4,"x":900.3,"y":487},{"s":1,"c":4,"x":899.3,"y":483.6},{"s":1,"c":4,"x":897.3,"y":482.9},
{"s":2,"c":4,"x":895.2,"y":475.5},{"s":2,"c":4,"x":898.3,"y":480.2},{"s":2,"c":4,"x":902.6,"y":476},{"s":2,"c":4,"x":900.8,"y":471.2},{"s":2,"c":4,"x":896.7,"y":473.6},
{"s":3,"c":2,"x":905.2,"y":483.6},{"s":3,"c":2,"x":908.1,"y":479.1},{"s":3,"c":2,"x":905.2,"y":474.5},{"s":3,"c":2,"x":902,"y":479.1},
{"s":4,"c":1,"x":905.2,"y":482.2},{"s":4,"c":1,"x":907.6,"y":479.1},{"s":4,"c":1,"x":905.2,"y":475.7},{"s":4,"c":1,"x":903,"y":479.1},
{"s":5,"c":4,"x":909,"y":476.5},{"s":5,"c":4,"x":911.5,"y":480.8},{"s":5,"c":4,"x":916.1,"y":479.8},{"s":5,"c":4,"x":920.6,"y":475.5},{"s":5,"c":4,"x":919.6,"y":471.7},{"s":5,"c":4,"x":915.1,"y":470.7},{"s":5,"c":4,"x":910.5,"y":473.6},
{"s":6,"c":1,"x":919.3,"y":481.7},{"s":6,"c":1,"x":923.2,"y":485.8},{"s":6,"c":1,"x":929.3,"y":485.6},{"s":6,"c":1,"x":931.5,"y":481.2},{"s":6,"c":1,"x":929.3,"y":477.4},{"s":6,"c":1,"x":924.7,"y":478.4}]},"mark":{"type":"line","stroke":null,"interpolate":"cardinal-closed"}}]},
{"data":{"values":[{"x":923.7,"y":495.8},{"x":920.8,"y":490.6},{"x":939,"y":488.1},{"x":949.1,"y":487.5},{"x":896.7,"y":485.5},{"x":893.2,"y":484.1},{"x":913.8,"y":483.9},{"x":967,"y":485.1},{"x":922.2,"y":481.6},{"x":926.8,"y":480.5},{"x":884.1,"y":480},{"x":972.4,"y":481.7},{"x":905.1,"y":478.2},{"x":912,"y":477.1},{"x":900.3,"y":476.2},{"x":917.5,"y":476.2},{"x":954.4,"y":478.7},{"x":930,"y":472.6},{"x":933.6,"y":467},{"x":910.3,"y":464.7}]},"mark":{"type":"point","size":64}},
{"data":{"values":[{"x":926,"y":510,"t":"Zone 3"}]},"mark":"text","encoding":{"text":{"field":"t"}}},
{"data":{"values":[{"x":973.3,"y":505.6}]},"layer":[{"mark":{"type":"text","text":"N","dy":-24,"font":"Liberation Sans","fontWeight":"normal","fontSize":15}},{"mark":{"type":"point","shape":"M0,-.95L-.7,.95L0,.4Z","size":900}},{"mark":{"type":"point","shape":"M0,-.95L.7,.95L0,.4Z","size":900,"filled":false,"stroke":"#000","strokeWidth":1}}]}
]},
{"width":319,"height":261,"encoding":{"x":{"field":"x","type":"quantitative","scale":{"domain":[826.6,1036.5],"nice":false,"zero":false},"axis":{"values":[840,900,960,1020],"labelExpr":"lx1[round(datum.index*3)]"}},"y":{"field":"y","type":"quantitative","scale":{"domain":[571.7,780.2],"nice":false,"zero":false},"axis":{"values":[750,690,630,570],"labelExpr":"ly1[round(datum.index*3)]"}}},"layer":[
{"encoding":{"fill":{"field":"c","type":"nominal","scale":{"domain":[1,2,3,4]},"legend":{"legendX":212,"legendY":173,"title":"Cu (mg/kg)","labelExpr":"['11.4 - 27.48','27.49 - 36.87','36.88 - 52.62','52.63 - 96.86'][datum.value-1]"}},"detail":{"field":"s"},"order":{"value":null}},"layer":[
{"data":{"values":[{"s":1,"c":2,"x":893.5,"y":774.2},{"s":1,"c":2,"x":947.8,"y":625},{"s":1,"c":2,"x":910.4,"y":570.9},{"s":1,"c":2,"x":892.8,"y":587},{"s":1,"c":2,"x":869.7,"y":605.9},{"s":1,"c":2,"x":863,"y":619.3},{"s":1,"c":2,"x":851.4,"y":636.9},
{"s":2,"c":1,"x":893.5,"y":774.2},{"s":2,"c":1,"x":902.3,"y":750},{"s":2,"c":1,"x":895,"y":747.3},{"s":2,"c":1,"x":885.5,"y":746.8},
{"s":3,"c":3,"x":912.2,"y":724.4},{"s":3,"c":3,"x":939.4,"y":653.8},{"s":3,"c":3,"x":933.5,"y":646.3},{"s":3,"c":3,"x":931.3,"y":634},{"s":3,"c":3,"x":924.7,"y":620.7},{"s":3,"c":3,"x":929,"y":601.8},{"s":3,"c":3,"x":917,"y":592.4},{"s":3,"c":3,"x":908.6,"y":573.5},{"s":3,"c":3,"x":899.4,"y":584.3},{"s":3,"c":3,"x":892.8,"y":604.5},{"s":3,"c":3,"x":892.8,"y":620.7},{"s":3,"c":3,"x":901.6,"y":639.5},{"s":3,"c":3,"x":895.7,"y":655.7},{"s":3,"c":3,"x":901.6,"y":662.4},{"s":3,"c":3,"x":910.4,"y":655.7},{"s":3,"c":3,"x":917,"y":650.3},{"s":3,"c":3,"x":924.7,"y":655.7},{"s":3,"c":3,"x":915.9,"y":667.8},{"s":3,"c":3,"x":908.2,"y":685.3},{"s":3,"c":3,"x":900.5,"y":701.5},{"s":3,"c":3,"x":902.7,"y":712.3},
{"s":4,"c":1,"x":852,"y":636.9},{"s":4,"c":1,"x":858.9,"y":655.7},{"s":4,"c":1,"x":868.6,"y":654.3},{"s":4,"c":1,"x":870.8,"y":647.6},{"s":4,"c":1,"x":866.4,"y":639.5},{"s":4,"c":1,"x":873,"y":628.8},{"s":4,"c":1,"x":863,"y":619.3},
{"s":5,"c":1,"x":947.8,"y":625},{"s":5,"c":1,"x":942.3,"y":634},{"s":5,"c":1,"x":938.6,"y":623.6},{"s":5,"c":1,"x":941.2,"y":616},
{"s":6,"c":1,"x":908.2,"y":584.3},{"s":6,"c":1,"x":912.6,"y":584.3},{"s":6,"c":1,"x":910.4,"y":570.9}]},"mark":{"type":"line","stroke":null}},
{"data":{"values":[{"s":1,"c":4,"x":924.7,"y":674.6},{"s":1,"c":4,"x":928.7,"y":684},{"s":1,"c":4,"x":936,"y":662.4},{"s":1,"c":4,"x":929,"y":663.8},
{"s":2,"c":4,"x":900.5,"y":592.4},{"s":2,"c":4,"x":907,"y":602.4},{"s":2,"c":4,"x":914,"y":595},{"s":2,"c":4,"x":908.2,"y":587},{"s":2,"c":4,"x":901.6,"y":585},
{"s":3,"c":3,"x":877.5,"y":661.1},{"s":3,"c":3,"x":879.6,"y":663.5},{"s":3,"c":3,"x":881.7,"y":661.1},{"s":3,"c":3,"x":879.6,"y":658.9}]},"mark":{"type":"line","stroke":null,"interpolate":"cardinal-closed"}}]},
{"data":{"values":[{"x":893.5,"y":774.2},{"x":880.9,"y":690.2},{"x":898.1,"y":672.7},{"x":933.5,"y":671.9},{"x":871.7,"y":661.9},{"x":879.4,"y":660.6},{"x":911.3,"y":663.8},{"x":909.5,"y":661.4},{"x":860.7,"y":656.2},{"x":863.1,"y":648.2},{"x":906.7,"y":654.1},{"x":919,"y":654.4},{"x":928,"y":643.6},{"x":935.7,"y":643.6},{"x":861.6,"y":639.8},{"x":873,"y":640.1},{"x":851.4,"y":636.9},{"x":947.8,"y":625},{"x":869.9,"y":605.9},{"x":885.1,"y":596.7},{"x":893,"y":588.9},{"x":907.1,"y":589.7},{"x":910.4,"y":582.4},{"x":921.2,"y":586.2},{"x":910.4,"y":570.9}]},"mark":"point"},
{"data":{"values":[{"x":858,"y":765,"t":"Zone 1"}]},"mark":"text","encoding":{"text":{"field":"t"}}},
{"data":{"values":[{"x":1027,"y":743}]},"layer":[{"mark":{"type":"text","text":"N","dy":-24,"font":"Liberation Sans","fontWeight":"normal","fontSize":15}},{"mark":{"type":"point","shape":"M0,-.95L-.7,.95L0,.4Z","size":900}},{"mark":{"type":"point","shape":"M0,-.95L.7,.95L0,.4Z","size":900,"filled":false,"stroke":"#000","strokeWidth":1}}]}
]},
{"width":320,"height":261,"encoding":{"x":{"field":"x","type":"quantitative","scale":{"domain":[1037.4,1162.5],"nice":false,"zero":false},"axis":{"values":[1050,1080,1110,1144.3],"labelExpr":"lx2[round(datum.index*3)]","labelFontSize":12}},"y":{"field":"y","type":"quantitative","scale":{"domain":[505.8,609.3],"nice":false,"zero":false},"axis":{"values":[600,570,540,511.6],"labelExpr":"ly2[round(datum.index*3)]"}}},"layer":[
{"encoding":{"fill":{"field":"c","type":"nominal","scale":{"domain":[1,2,3,4]},"legend":{"legendX":197,"legendY":3,"rowPadding":-3,"titlePadding":-3,"title":"Cu (mg/kg)","labelExpr":"['3.23 - 19.08','19.09 - 26.23','26.24 - 33','33.01 - 52.52'][datum.value-1]"}},"detail":{"field":"s"},"order":{"value":null}},"layer":[
{"data":{"values":[{"s":1,"c":3,"x":1073,"y":591},{"s":1,"c":3,"x":1100.6,"y":560.4},{"s":1,"c":3,"x":1117.3,"y":526},{"s":1,"c":3,"x":1073.9,"y":516.5},{"s":1,"c":3,"x":1041.9,"y":551.3},{"s":1,"c":3,"x":1047.4,"y":581.6},{"s":1,"c":3,"x":1068.3,"y":589.9},
{"s":2,"c":2,"x":1064.1,"y":573.7},{"s":2,"c":2,"x":1079.7,"y":583.6},{"s":2,"c":2,"x":1086.3,"y":578.3},{"s":2,"c":2,"x":1099.9,"y":559.7},{"s":2,"c":2,"x":1106.4,"y":547.1},{"s":2,"c":2,"x":1100.6,"y":547.1},{"s":2,"c":2,"x":1095.4,"y":549.8},{"s":2,"c":2,"x":1092.8,"y":556.4},{"s":2,"c":2,"x":1085,"y":559},{"s":2,"c":2,"x":1075.2,"y":555.3},{"s":2,"c":2,"x":1065.4,"y":563},
{"s":3,"c":1,"x":1081.7,"y":579},{"s":3,"c":1,"x":1084.3,"y":579.7},{"s":3,"c":1,"x":1099.9,"y":559.7},{"s":3,"c":1,"x":1095.4,"y":559.7},{"s":3,"c":1,"x":1088.9,"y":562.4},{"s":3,"c":1,"x":1083.6,"y":569.7},
{"s":4,"c":2,"x":1047.4,"y":581.4},{"s":4,"c":2,"x":1054.3,"y":583.6},{"s":4,"c":2,"x":1055.2,"y":579.6},{"s":4,"c":2,"x":1052.3,"y":575},{"s":4,"c":2,"x":1046.5,"y":575},
{"s":5,"c":4,"x":1060.2,"y":587},{"s":5,"c":4,"x":1068,"y":589.6},{"s":5,"c":4,"x":1074.8,"y":590.3},{"s":5,"c":4,"x":1073.2,"y":586.3},{"s":5,"c":4,"x":1068,"y":583.2},{"s":5,"c":4,"x":1062.8,"y":584.3},
{"s":6,"c":2,"x":1070,"y":548.4},{"s":6,"c":2,"x":1077.8,"y":549.7},{"s":6,"c":2,"x":1081.7,"y":544.4},{"s":6,"c":2,"x":1079.7,"y":540.4},{"s":6,"c":2,"x":1083.6,"y":527.1},{"s":6,"c":2,"x":1090.8,"y":520.5},{"s":6,"c":2,"x":1079.7,"y":517.8},{"s":6,"c":2,"x":1069.3,"y":521.8},{"s":6,"c":2,"x":1059.5,"y":533.8},{"s":6,"c":2,"x":1062.1,"y":539.1},{"s":6,"c":2,"x":1066.7,"y":543.1},
{"s":7,"c":1,"x":1069.6,"y":521.5},{"s":7,"c":1,"x":1075.2,"y":522.5},{"s":7,"c":1,"x":1081,"y":518.1},{"s":7,"c":1,"x":1073.9,"y":516.5},
{"s":8,"c":2,"x":1114.3,"y":527.1},{"s":8,"c":2,"x":1115.6,"y":528.4},{"s":8,"c":2,"x":1117.3,"y":526}]},"mark":{"type":"line","stroke":null}},
{"data":{"values":[{"s":1,"c":4,"x":1087.3,"y":541.7},{"s":1,"c":4,"x":1090.2,"y":546.4},{"s":1,"c":4,"x":1096.7,"y":545.1},{"s":1,"c":4,"x":1105.8,"y":539.1},{"s":1,"c":4,"x":1112.3,"y":536.4},{"s":1,"c":4,"x":1113.6,"y":532.4},{"s":1,"c":4,"x":1107.1,"y":528.7},{"s":1,"c":4,"x":1096.7,"y":530.4},{"s":1,"c":4,"x":1088.9,"y":535.1},
{"s":2,"c":4,"x":1081.8,"y":553.7},{"s":2,"c":4,"x":1084.7,"y":556.1},{"s":2,"c":4,"x":1087.6,"y":553.7},{"s":2,"c":4,"x":1084.7,"y":551.3},
{"s":3,"c":4,"x":1061,"y":546.4},{"s":3,"c":4,"x":1065,"y":549.4},{"s":3,"c":4,"x":1067.2,"y":546.4},{"s":3,"c":4,"x":1063.2,"y":543.4},
{"s":4,"c":4,"x":1048.4,"y":545},{"s":4,"c":4,"x":1053.7,"y":546.1},{"s":4,"c":4,"x":1057.6,"y":542.4},{"s":4,"c":4,"x":1054.3,"y":538.7},{"s":4,"c":4,"x":1051.7,"y":539.8},
{"s":5,"c":2,"x":1057.3,"y":549.7},{"s":5,"c":2,"x":1059.3,"y":551.7},{"s":5,"c":2,"x":1061.3,"y":549.7},{"s":5,"c":2,"x":1059.3,"y":547.7},
{"s":6,"c":1,"x":1074.3,"y":540.4},{"s":6,"c":1,"x":1076.1,"y":542.2},{"s":6,"c":1,"x":1077.9,"y":540.4},{"s":6,"c":1,"x":1076.1,"y":538.6},
{"s":7,"c":1,"x":1070.1,"y":535.4},{"s":7,"c":1,"x":1071.3,"y":536.6},{"s":7,"c":1,"x":1072.5,"y":535.4},{"s":7,"c":1,"x":1071.3,"y":534.2}]},"mark":{"type":"line","stroke":null,"interpolate":"cardinal-closed"}}]},
{"data":{"values":[{"x":1073,"y":591},{"x":1068.1,"y":589.9},{"x":1047.4,"y":581.6},{"x":1092.6,"y":571.3},{"x":1093.7,"y":569},{"x":1096,"y":567.9},{"x":1080.5,"y":567.7},{"x":1084.9,"y":553.7},{"x":1043,"y":552.8},{"x":1041.9,"y":551.3},{"x":1100.7,"y":550.1},{"x":1059.6,"y":548.9},{"x":1064.3,"y":546.1},{"x":1071,"y":546.3},{"x":1053.7,"y":542.1},{"x":1066.7,"y":542.1},{"x":1076.1,"y":540.3},{"x":1083.3,"y":539.8},{"x":1093.2,"y":539.5},{"x":1071.3,"y":535.2},{"x":1109.7,"y":533},{"x":1117.3,"y":526},{"x":1073.9,"y":516.5}]},"mark":"point"},
{"data":{"values":[{"x":1082,"y":602,"t":"Zone 2"}]},"mark":"text","encoding":{"text":{"field":"t"}}},
{"data":{"values":[{"x":1043.5,"y":592}]},"layer":[{"mark":{"type":"text","text":"N","dy":-24,"font":"Liberation Sans","fontWeight":"normal","fontSize":15}},{"mark":{"type":"point","shape":"M0,-.95L-.7,.95L0,.4Z","size":900}},{"mark":{"type":"point","shape":"M0,-.95L.7,.95L0,.4Z","size":900,"filled":false,"stroke":"#000","strokeWidth":1}}]}
]},
{"width":320,"height":261,"encoding":{"x":{"field":"x","type":"quantitative","scale":{"domain":[879.6,979.2],"nice":false,"zero":false},"axis":{"values":[900,930,960],"labels":false}},"y":{"field":"y","type":"quantitative","scale":{"domain":[446.3,514.8],"nice":false,"zero":false},"axis":{"values":[510,480,450],"labelExpr":"ly3[round(datum.index*2)]","labelFontSize":10}}},"layer":[
{"encoding":{"fill":{"field":"c","type":"nominal","scale":{"domain":[1,2,3,4]},"legend":{"legendX":1,"legendY":6,"title":"Cu (mg/kg)","titleFontSize":14,"titlePadding":6,"labelFontSize":14,"rowPadding":0,"symbolSize":30,"symbolOffset":2.7,"labelOffset":-1,"labelExpr":"['18.45 - 29.54','29.55 - 37.81','37.82 - 51.72','51.73 - 69.87'][datum.value-1]"}},"detail":{"field":"s"},"order":{"value":null}},"layer":[
{"data":{"values":[{"s":1,"c":2,"x":923.6,"y":495.7},{"s":1,"c":2,"x":945.2,"y":491},{"s":1,"c":2,"x":972.7,"y":481.6},{"s":1,"c":2,"x":933.4,"y":466.7},{"s":1,"c":2,"x":910,"y":464.6},{"s":1,"c":2,"x":883.9,"y":480},
{"s":2,"c":3,"x":905.5,"y":467.8},{"s":2,"c":3,"x":909.9,"y":469.8},{"s":2,"c":3,"x":915.1,"y":468.4},{"s":2,"c":3,"x":917.1,"y":465.4},{"s":2,"c":3,"x":910,"y":464.6},
{"s":3,"c":1,"x":923.6,"y":495.7},{"s":3,"c":1,"x":929.1,"y":494.3},{"s":3,"c":1,"x":925.4,"y":492.9},{"s":3,"c":1,"x":921.3,"y":495.2},
{"s":4,"c":1,"x":969,"y":482},{"s":4,"c":1,"x":970.5,"y":483.5},{"s":4,"c":1,"x":972.7,"y":481.6},{"s":4,"c":1,"x":971.6,"y":480.7},
{"s":5,"c":3,"x":883.9,"y":480},{"s":5,"c":3,"x":888,"y":482},{"s":5,"c":3,"x":889.6,"y":477.8}]},"mark":{"type":"line","stroke":null}},
{"data":{"values":[{"s":1,"c":1,"x":889.6,"y":482.3},{"s":1,"c":1,"x":907.3,"y":489.6},{"s":1,"c":1,"x":909.7,"y":479.7},{"s":1,"c":1,"x":906.2,"y":472.7},{"s":1,"c":1,"x":900,"y":471.2},{"s":1,"c":1,"x":894.3,"y":475},
{"s":2,"c":1,"x":932.7,"y":488.7},{"s":2,"c":1,"x":937.9,"y":493.1},{"s":2,"c":1,"x":942,"y":489.6},{"s":2,"c":1,"x":941,"y":485.4},{"s":2,"c":1,"x":937.4,"y":483.3},{"s":2,"c":1,"x":933.7,"y":484.9},
{"s":3,"c":3,"x":943.6,"y":483},{"s":3,"c":3,"x":945.4,"y":490.5},{"s":3,"c":3,"x":957,"y":487.5},{"s":3,"c":3,"x":952.4,"y":483.5},{"s":3,"c":3,"x":946.7,"y":479.7},
{"s":4,"c":4,"x":945.2,"y":490},{"s":4,"c":4,"x":953.5,"y":488.7},{"s":4,"c":4,"x":951.9,"y":485.4},{"s":4,"c":4,"x":948.8,"y":483.5},{"s":4,"c":4,"x":946.2,"y":485.4},
{"s":5,"c":1,"x":951.3,"y":478.3},{"s":5,"c":1,"x":954.7,"y":481.6},{"s":5,"c":1,"x":958.6,"y":478.3},{"s":5,"c":1,"x":955,"y":474.8},
{"s":6,"c":1,"x":929.8,"y":467},{"s":6,"c":1,"x":933.2,"y":470.1},{"s":6,"c":1,"x":936.8,"y":467.9},{"s":6,"c":1,"x":933.7,"y":466.9},
{"s":7,"c":3,"x":919.4,"y":491.3},{"s":7,"c":3,"x":920.7,"y":492.6},{"s":7,"c":3,"x":922,"y":491.3},{"s":7,"c":3,"x":920.7,"y":490}]},"mark":{"type":"line","stroke":null,"interpolate":"cardinal-closed"}}]},
{"data":{"values":[{"x":923.6,"y":495.7},{"x":920.8,"y":490.7},{"x":938.7,"y":488.2},{"x":949,"y":487.4},{"x":896.6,"y":485.6},{"x":892.9,"y":484.2},{"x":913.8,"y":484},{"x":967,"y":485.2},{"x":922.2,"y":481.6},{"x":926.8,"y":480.5},{"x":883.9,"y":480},{"x":972.5,"y":481.8},{"x":904.9,"y":478.2},{"x":911.9,"y":477.2},{"x":900,"y":476.1},{"x":917.3,"y":476.1},{"x":954.3,"y":478.6},{"x":929.9,"y":472.7},{"x":933.4,"y":466.9},{"x":910.1,"y":464.6}]},"mark":{"type":"point","size":64}},
{"data":{"values":[{"x":926,"y":510.5,"t":"Zone 3"}]},"mark":"text","encoding":{"text":{"field":"t"}}},
{"data":{"values":[{"x":974,"y":506}]},"layer":[{"mark":{"type":"text","text":"N","dy":-24,"font":"Liberation Sans","fontWeight":"normal","fontSize":15}},{"mark":{"type":"point","shape":"M0,-.95L-.7,.95L0,.4Z","size":900}},{"mark":{"type":"point","shape":"M0,-.95L.7,.95L0,.4Z","size":900,"filled":false,"stroke":"#000","strokeWidth":1}}]}
]},
{"width":319,"height":262,"encoding":{"x":{"field":"x","type":"quantitative","scale":{"domain":[827.8,1036.6],"nice":false,"zero":false},"axis":{"values":[840,900,960,1020],"labelExpr":"lx1[round(datum.index*3)]"}},"y":{"field":"y","type":"quantitative","scale":{"domain":[570,780],"nice":false,"zero":false},"axis":{"values":[750,690,630,570],"labelExpr":"ly1[round(datum.index*3)]"}}},"layer":[
{"encoding":{"fill":{"field":"c","type":"nominal","scale":{"domain":[1,2,3,4]},"legend":{"legendX":191,"legendY":177,"title":"Ni (mg/kg)","titleAnchor":"middle","labelExpr":"['15.62 - 53.03','53.04 - 65.74','65.75 - 81.35','81.36 - 108.23'][datum.value-1]"}},"detail":{"field":"s"},"order":{"value":null}},"layer":[
{"data":{"values":[{"s":1,"c":2,"x":886.9,"y":772},{"s":1,"c":2,"x":948,"y":627.2},{"s":1,"c":2,"x":905.9,"y":575.4},{"s":1,"c":2,"x":840,"y":639.2},
{"s":2,"c":1,"x":886.9,"y":772},{"s":2,"c":1,"x":898.9,"y":744.2},{"s":2,"c":1,"x":878.2,"y":746.3},
{"s":3,"c":1,"x":921.8,"y":691},{"s":3,"c":1,"x":931.6,"y":672.4},{"s":3,"c":1,"x":948,"y":627.2},{"s":3,"c":1,"x":905.9,"y":575.4},{"s":3,"c":1,"x":893.5,"y":586},{"s":3,"c":1,"x":896.7,"y":606},{"s":3,"c":1,"x":902.2,"y":616.6},{"s":3,"c":1,"x":908.7,"y":632.5},{"s":3,"c":1,"x":908.7,"y":648.5},{"s":3,"c":1,"x":916.4,"y":659},{"s":3,"c":1,"x":917.5,"y":680.4},
{"s":4,"c":1,"x":840,"y":639.2},{"s":4,"c":1,"x":844.4,"y":645.8},{"s":4,"c":1,"x":855.3,"y":645.8},{"s":4,"c":1,"x":864,"y":647.9},{"s":4,"c":1,"x":871.6,"y":640.5},{"s":4,"c":1,"x":867.3,"y":632.5},{"s":4,"c":1,"x":858.5,"y":629.9},{"s":4,"c":1,"x":850.9,"y":625.3},
{"s":5,"c":3,"x":872.7,"y":732.2},{"s":5,"c":3,"x":893.5,"y":722.9},{"s":5,"c":3,"x":897.8,"y":709.6},{"s":5,"c":3,"x":893.5,"y":695},{"s":5,"c":3,"x":882.5,"y":680.4},{"s":5,"c":3,"x":884.7,"y":659},{"s":5,"c":3,"x":880.4,"y":650.6},{"s":5,"c":3,"x":860.7,"y":650.6},{"s":5,"c":3,"x":844.4,"y":648},{"s":5,"c":3,"x":843.7,"y":649.8},
{"s":6,"c":3,"x":857.5,"y":618.7},{"s":6,"c":3,"x":866.2,"y":617.9},{"s":6,"c":3,"x":871,"y":611.3},{"s":6,"c":3,"x":870.5,"y":604.6},{"s":6,"c":3,"x":855.3,"y":619.2},
{"s":7,"c":3,"x":879.3,"y":596.6},{"s":7,"c":3,"x":885.8,"y":600.6},{"s":7,"c":3,"x":891.7,"y":592.6},{"s":7,"c":3,"x":892.4,"y":587.3}]},"mark":{"type":"line","stroke":null}},
{"data":{"values":[{"s":1,"c":4,"x":858.1,"y":693.6},{"s":1,"c":4,"x":869.5,"y":710.4},{"s":1,"c":4,"x":884.3,"y":697.6},{"s":1,"c":4,"x":881.5,"y":684.3},{"s":1,"c":4,"x":869.5,"y":679.8},
{"s":2,"c":4,"x":867.5,"y":662.6},{"s":2,"c":4,"x":871.2,"y":666},{"s":2,"c":4,"x":875,"y":662.6},{"s":2,"c":4,"x":871.2,"y":659},
{"s":3,"c":1,"x":887.6,"y":673.7},{"s":3,"c":1,"x":892.4,"y":679},{"s":3,"c":1,"x":897,"y":673.7},{"s":3,"c":1,"x":892.4,"y":668},
{"s":4,"c":2,"x":930,"y":645.8},{"s":4,"c":2,"x":934.9,"y":650.5},{"s":4,"c":2,"x":939.5,"y":645.8},{"s":4,"c":2,"x":934.9,"y":640.5},
{"s":5,"c":2,"x":915.5,"y":590},{"s":5,"c":2,"x":917.9,"y":592},{"s":5,"c":2,"x":920,"y":590},{"s":5,"c":2,"x":917.9,"y":588}]},"mark":{"type":"line","stroke":null,"interpolate":"cardinal-closed"}}]},
{"data":{"values":[{"x":886.9,"y":772},{"x":873,"y":691},{"x":892.1,"y":673.7},{"x":931.6,"y":672.7},{"x":862.5,"y":663.6},{"x":871.2,"y":661.8},{"x":907,"y":665.2},{"x":904.8,"y":662.6},{"x":850.3,"y":657.5},{"x":852.7,"y":649.8},{"x":902.2,"y":655.9},{"x":915.3,"y":656.2},{"x":925.5,"y":645.3},{"x":934.3,"y":645.3},{"x":850.9,"y":641.8},{"x":864,"y":642.1},{"x":840,"y":639.2},{"x":948,"y":627.2},{"x":860.7,"y":608.9},{"x":877.3,"y":600.4},{"x":886.5,"y":592.4},{"x":902.4,"y":593.4},{"x":905.9,"y":586.3},{"x":918.1,"y":589.7},{"x":905.9,"y":575.4}]},"mark":"point"},
{"data":{"values":[{"x":859,"y":766,"t":"Zone 1"}]},"mark":"text","encoding":{"text":{"field":"t"}}},
{"data":{"values":[{"x":1026,"y":747}]},"layer":[{"mark":{"type":"text","text":"N","dy":-24,"font":"Liberation Sans","fontWeight":"normal","fontSize":15}},{"mark":{"type":"point","shape":"M0,-.95L-.7,.95L0,.4Z","size":900}},{"mark":{"type":"point","shape":"M0,-.95L.7,.95L0,.4Z","size":900,"filled":false,"stroke":"#000","strokeWidth":1}}]}
]},
{"width":320,"height":262,"encoding":{"x":{"field":"x","type":"quantitative","scale":{"domain":[1032.9,1160.1],"nice":false,"zero":false},"axis":{"values":[1050,1080,1110,1144.7],"labelExpr":"lx2[round(datum.index*3)]","labelFontSize":12}},"y":{"field":"y","type":"quantitative","scale":{"domain":[506.1,607.7],"nice":false,"zero":false},"axis":{"values":[600,570,540,511.5],"labelExpr":"ly2[round(datum.index*3)]"}}},"layer":[
{"encoding":{"fill":{"field":"c","type":"nominal","scale":{"domain":[1,2,3,4]},"legend":{"legendX":200,"legendY":3,"rowPadding":-2.5,"titlePadding":-2,"title":"Ni (mg/kg)","titleAnchor":"middle","labelExpr":"['30.98 - 44.88','44.89 - 55.37','55.38 - 70.31','70.32 - 97.84'][datum.value-1]"}},"detail":{"field":"s"},"order":{"value":null}},"layer":[
{"data":{"values":[{"s":1,"c":3,"x":1070.5,"y":592.9},{"s":1,"c":3,"x":1094.4,"y":569},{"s":1,"c":3,"x":1115.6,"y":526.7},{"s":1,"c":3,"x":1071.2,"y":516.9},{"s":1,"c":3,"x":1038.7,"y":552.5},{"s":1,"c":3,"x":1044.4,"y":583.5},{"s":1,"c":3,"x":1065.5,"y":591.9},
{"s":2,"c":1,"x":1070.5,"y":592.9},{"s":2,"c":1,"x":1094.4,"y":569},{"s":2,"c":1,"x":1097,"y":562.6},{"s":2,"c":1,"x":1085.1,"y":561},{"s":2,"c":1,"x":1081.1,"y":560.3},{"s":2,"c":1,"x":1075.2,"y":557.2},{"s":2,"c":1,"x":1063.9,"y":559.4},{"s":2,"c":1,"x":1061.9,"y":561.9},{"s":2,"c":1,"x":1054.6,"y":559.4},{"s":2,"c":1,"x":1059.9,"y":552.3},{"s":2,"c":1,"x":1055.9,"y":544.5},{"s":2,"c":1,"x":1052,"y":538.7},{"s":2,"c":1,"x":1038.7,"y":552.5},{"s":2,"c":1,"x":1044.4,"y":583.5},{"s":2,"c":1,"x":1065.5,"y":591.9},
{"s":3,"c":2,"x":1054.6,"y":559.4},{"s":3,"c":2,"x":1061.9,"y":561.9},{"s":3,"c":2,"x":1063.9,"y":559.4},{"s":3,"c":2,"x":1075.2,"y":557.2},{"s":3,"c":2,"x":1081.1,"y":560.3},{"s":3,"c":2,"x":1097,"y":562.6},{"s":3,"c":2,"x":1101,"y":556.2},{"s":3,"c":2,"x":1094.4,"y":553.6},{"s":3,"c":2,"x":1094.4,"y":548.4},{"s":3,"c":2,"x":1099.6,"y":542.6},{"s":3,"c":2,"x":1096.3,"y":536.2},{"s":3,"c":2,"x":1089.7,"y":532.9},{"s":3,"c":2,"x":1084.4,"y":529.3},{"s":3,"c":2,"x":1077.1,"y":532.9},{"s":3,"c":2,"x":1071.8,"y":536.8},{"s":3,"c":2,"x":1063.9,"y":539.3},{"s":3,"c":2,"x":1057.3,"y":532.9},{"s":3,"c":2,"x":1052,"y":538.7},{"s":3,"c":2,"x":1055.9,"y":544.5},{"s":3,"c":2,"x":1059.9,"y":552.3},
{"s":4,"c":4,"x":1065.9,"y":523.6},{"s":4,"c":4,"x":1071.2,"y":524.5},{"s":4,"c":4,"x":1078.5,"y":522.6},{"s":4,"c":4,"x":1081.8,"y":519.4},{"s":4,"c":4,"x":1071.2,"y":516.9},
{"s":5,"c":4,"x":1111.9,"y":527.1},{"s":5,"c":4,"x":1113.9,"y":529.7},{"s":5,"c":4,"x":1115.6,"y":526.7}]},"mark":{"type":"line","stroke":null}},
{"data":{"values":[{"s":1,"c":1,"x":1070.3,"y":542},{"s":1,"c":1,"x":1075.8,"y":546.5},{"s":1,"c":1,"x":1082.5,"y":546.5},{"s":1,"c":1,"x":1085.4,"y":542},{"s":1,"c":1,"x":1081.1,"y":537},{"s":1,"c":1,"x":1074.5,"y":538.7},
{"s":2,"c":4,"x":1064.2,"y":535.2},{"s":2,"c":4,"x":1068.2,"y":539.1},{"s":2,"c":4,"x":1072.2,"y":535.2},{"s":2,"c":4,"x":1068.2,"y":531.3}]},"mark":{"type":"line","stroke":null,"interpolate":"cardinal-closed"}}]},
{"data":{"values":[{"x":1070.5,"y":592.9},{"x":1065.5,"y":591.9},{"x":1044.4,"y":583.5},{"x":1090.4,"y":572.8},{"x":1091.5,"y":570.3},{"x":1094,"y":569.3},{"x":1078.4,"y":569.3},{"x":1082.5,"y":554.9},{"x":1039.8,"y":554.1},{"x":1038.7,"y":552.5},{"x":1098.6,"y":551.2},{"x":1056.8,"y":550.1},{"x":1061.7,"y":547.4},{"x":1068.3,"y":547.4},{"x":1050.7,"y":543.2},{"x":1064,"y":543.1},{"x":1073.6,"y":541.3},{"x":1080.7,"y":540.9},{"x":1091.1,"y":540.5},{"x":1068.7,"y":536.1},{"x":1107.8,"y":533.8},{"x":1115.6,"y":526.9},{"x":1071.2,"y":516.9}]},"mark":"point"},
{"data":{"values":[{"x":1078.5,"y":600,"t":"Zone 2"}]},"mark":"text","encoding":{"text":{"field":"t"}}},
{"data":{"values":[{"x":1039.4,"y":591}]},"layer":[{"mark":{"type":"text","text":"N","dy":-24,"font":"Liberation Sans","fontWeight":"normal","fontSize":15}},{"mark":{"type":"point","shape":"M0,-.95L-.7,.95L0,.4Z","size":900}},{"mark":{"type":"point","shape":"M0,-.95L.7,.95L0,.4Z","size":900,"filled":false,"stroke":"#000","strokeWidth":1}}]}
]},
{"width":320,"height":262,"encoding":{"x":{"field":"x","type":"quantitative","scale":{"domain":[879.8,977.7],"nice":false,"zero":false},"axis":{"values":[900,930,960],"labelExpr":"lx3[round(datum.index*2)]","labelFontSize":10}},"y":{"field":"y","type":"quantitative","scale":{"domain":[444.5,516.9],"nice":false,"zero":false},"axis":{"values":[510,480,450],"labelExpr":"ly3[round(datum.index*2)]","labelFontSize":10}}},"layer":[
{"encoding":{"fill":{"field":"c","type":"nominal","scale":{"domain":[1,2,3,4]},"legend":{"legendX":1,"legendY":7,"title":"Ni (mg/kg)","titleFontSize":14,"titlePadding":6,"labelFontSize":14,"rowPadding":0,"symbolSize":30,"symbolOffset":2.7,"labelOffset":-1,"labelExpr":"['25.46 - 30.27','30.28 - 33.08','33.09 - 34.91','34.92 - 39.23'][datum.value-1]"}},"detail":{"field":"s"},"order":{"value":null}},"layer":[
{"data":{"values":[{"s":1,"c":3,"x":924.2,"y":496.2},{"s":1,"c":3,"x":971.6,"y":482.2},{"s":1,"c":3,"x":932.4,"y":466.5},{"s":1,"c":3,"x":909.8,"y":464},{"s":1,"c":3,"x":883.8,"y":480},
{"s":2,"c":4,"x":885,"y":480},{"s":2,"c":4,"x":904,"y":489.4},{"s":2,"c":4,"x":901.8,"y":478.7},{"s":2,"c":4,"x":901.8,"y":471.8},{"s":2,"c":4,"x":897.2,"y":471.8}]},"mark":{"type":"line","stroke":null}},
{"data":{"values":[{"s":1,"c":2,"x":904.9,"y":478.4},{"s":1,"c":2,"x":909.5,"y":485.3},{"s":1,"c":2,"x":914.1,"y":478.4},{"s":1,"c":2,"x":909.5,"y":471.5},
{"s":2,"c":2,"x":912.7,"y":486.6},{"s":2,"c":2,"x":918.7,"y":493.5},{"s":2,"c":2,"x":924.7,"y":486.6},{"s":2,"c":2,"x":918.7,"y":478.6},
{"s":3,"c":2,"x":929.4,"y":486.6},{"s":3,"c":2,"x":937,"y":491},{"s":3,"c":2,"x":944.6,"y":486.6},{"s":3,"c":2,"x":937,"y":477.8},
{"s":4,"c":2,"x":950.8,"y":486.6},{"s":4,"c":2,"x":958.4,"y":487},{"s":4,"c":2,"x":966,"y":485},{"s":4,"c":2,"x":958.4,"y":482.6},
{"s":5,"c":2,"x":918.8,"y":475.6},{"s":5,"c":2,"x":924.8,"y":481.1},{"s":5,"c":2,"x":930.8,"y":475.6},{"s":5,"c":2,"x":924.8,"y":470.1},
{"s":6,"c":1,"x":933.3,"y":488.5},{"s":6,"c":1,"x":937.9,"y":490.8},{"s":6,"c":1,"x":942.5,"y":488.5},{"s":6,"c":1,"x":937.9,"y":483},
{"s":7,"c":1,"x":961,"y":484.4},{"s":7,"c":1,"x":964,"y":485.6},{"s":7,"c":1,"x":967.5,"y":483.8},{"s":7,"c":1,"x":964,"y":481.6},
{"s":8,"c":4,"x":908.2,"y":477.5},{"s":8,"c":4,"x":911,"y":480.2},{"s":8,"c":4,"x":913.8,"y":477.5},{"s":8,"c":4,"x":911,"y":474.8},
{"s":9,"c":4,"x":923.8,"y":480.8},{"s":9,"c":4,"x":926.9,"y":484.4},{"s":9,"c":4,"x":930,"y":480.8},{"s":9,"c":4,"x":926.9,"y":477.2},
{"s":10,"c":4,"x":948.6,"y":479.2},{"s":10,"c":4,"x":953.2,"y":484.7},{"s":10,"c":4,"x":957.8,"y":479.2},{"s":10,"c":4,"x":953.2,"y":473.7},
{"s":11,"c":4,"x":921,"y":494.4},{"s":11,"c":4,"x":924.2,"y":495.4},{"s":11,"c":4,"x":927.5,"y":494.2},{"s":11,"c":4,"x":924.2,"y":493},
{"s":12,"c":4,"x":929,"y":468},{"s":12,"c":4,"x":933,"y":469.4},{"s":12,"c":4,"x":937,"y":467.8},{"s":12,"c":4,"x":933,"y":467},
{"s":13,"c":1,"x":915,"y":476.4},{"s":13,"c":1,"x":917.1,"y":479.7},{"s":13,"c":1,"x":919.2,"y":476.4},{"s":13,"c":1,"x":917.1,"y":473.1}]},"mark":{"type":"line","stroke":null,"interpolate":"cardinal-closed"}}]},
{"data":{"values":[{"x":924.2,"y":496.2},{"x":920.5,"y":490.9},{"x":938.2,"y":488.3},{"x":948.5,"y":487.7},{"x":896.3,"y":485.7},{"x":892.7,"y":484.4},{"x":913.5,"y":484.1},{"x":966.2,"y":485.5},{"x":921.7,"y":481.6},{"x":926.3,"y":480.5},{"x":883.8,"y":480},{"x":971.7,"y":481.8},{"x":904.6,"y":478.2},{"x":911.5,"y":477.1},{"x":899.9,"y":476.2},{"x":917,"y":476.2},{"x":953.6,"y":478.7},{"x":929.3,"y":472.5},{"x":932.9,"y":466.6},{"x":909.7,"y":464}]},"mark":{"type":"point","size":64}},
{"data":{"values":[{"x":925.7,"y":511,"t":"Zone 3"}]},"mark":"text","encoding":{"text":{"field":"t"}}},
{"data":{"values":[{"x":972.5,"y":507}]},"layer":[{"mark":{"type":"text","text":"N","dy":-24,"font":"Liberation Sans","fontWeight":"normal","fontSize":15}},{"mark":{"type":"point","shape":"M0,-.95L-.7,.95L0,.4Z","size":900}},{"mark":{"type":"point","shape":"M0,-.95L.7,.95L0,.4Z","size":900,"filled":false,"stroke":"#000","strokeWidth":1}}]}
]},
{"width":319,"height":266,"encoding":{"x":{"field":"x","type":"quantitative","scale":{"domain":[827.3,1037.6],"nice":false,"zero":false},"axis":{"values":[840,900,960,1020],"labelExpr":"lx1[round(datum.index*3)]"}},"y":{"field":"y","type":"quantitative","scale":{"domain":[570,775.8],"nice":false,"zero":false},"axis":{"values":[750,690,630,570],"labelExpr":"ly1[round(datum.index*3)]"}}},"layer":[
{"encoding":{"fill":{"field":"c","type":"nominal","scale":{"domain":[1,2,3,4]},"legend":{"legendX":187,"legendY":192,"rowPadding":-3,"title":"Pb (mg/kg)","labelExpr":"['0 - 31.54','31.55 - 82.28','82.29 - 164.55','164.56 - 349.67'][datum.value-1]"}},"detail":{"field":"s"},"order":{"value":null}},"layer":[
{"data":{"values":[{"s":1,"c":3,"x":896,"y":751.5},{"s":1,"c":3,"x":948,"y":631},{"s":1,"c":3,"x":912.4,"y":588.5},{"s":1,"c":3,"x":856,"y":641.3},
{"s":2,"c":2,"x":889,"y":729.7},{"s":2,"c":2,"x":905.4,"y":730.2},{"s":2,"c":2,"x":928.5,"y":678.7},{"s":2,"c":2,"x":923.4,"y":665.8},{"s":2,"c":2,"x":916.8,"y":658},{"s":2,"c":2,"x":912.4,"y":640},{"s":2,"c":2,"x":900.4,"y":628.5},{"s":2,"c":2,"x":900,"y":609},{"s":2,"c":2,"x":912.4,"y":588.5},{"s":2,"c":2,"x":897,"y":601},{"s":2,"c":2,"x":856,"y":641.3},{"s":2,"c":2,"x":877.3,"y":696.7},
{"s":3,"c":1,"x":882.1,"y":712.7},{"s":3,"c":1,"x":901.5,"y":709.6},{"s":3,"c":1,"x":908,"y":696.7},{"s":3,"c":1,"x":908,"y":683.8},{"s":3,"c":1,"x":917.3,"y":667},{"s":3,"c":1,"x":914.6,"y":655.5},{"s":3,"c":1,"x":901.5,"y":650.3},{"s":3,"c":1,"x":888.3,"y":652.4},{"s":3,"c":1,"x":875.1,"y":652.9},{"s":3,"c":1,"x":869.6,"y":642.6},{"s":3,"c":1,"x":869.6,"y":629.8},{"s":3,"c":1,"x":881.7,"y":625.9},{"s":3,"c":1,"x":892.7,"y":615.6},{"s":3,"c":1,"x":898.8,"y":601.4},{"s":3,"c":1,"x":893.8,"y":600.9},{"s":3,"c":1,"x":856,"y":641.3}]},"mark":{"type":"line","stroke":null}},
{"data":{"values":[{"s":1,"c":3,"x":872.7,"y":643.4},{"s":1,"c":3,"x":876.7,"y":649},{"s":1,"c":3,"x":880.7,"y":643.4},{"s":1,"c":3,"x":876.7,"y":638},
{"s":2,"c":4,"x":903.2,"y":605.3},{"s":2,"c":4,"x":910.2,"y":612.8},{"s":2,"c":4,"x":916.8,"y":607.4},{"s":2,"c":4,"x":908,"y":598.9},
{"s":3,"c":4,"x":920.5,"y":599.4},{"s":3,"c":4,"x":922.3,"y":601.4},{"s":3,"c":4,"x":924,"y":599.4},{"s":3,"c":4,"x":922.3,"y":597.4},
{"s":4,"c":2,"x":908,"y":596},{"s":4,"c":2,"x":912.4,"y":598},{"s":4,"c":2,"x":916.8,"y":596},{"s":4,"c":2,"x":912.4,"y":590}]},"mark":{"type":"line","stroke":null,"interpolate":"cardinal-closed"}}]},
{"data":{"values":[{"x":896,"y":752},{"x":884.1,"y":683.8},{"x":900.6,"y":669.7},{"x":933.9,"y":668.9},{"x":875.6,"y":661.2},{"x":883,"y":660.1},{"x":913.3,"y":662.7},{"x":911.6,"y":660.6},{"x":864.8,"y":656.8},{"x":867,"y":649.8},{"x":908.9,"y":654.7},{"x":920.3,"y":655.2},{"x":928.9,"y":646.2},{"x":936.1,"y":646.5},{"x":865.7,"y":643.7},{"x":876.7,"y":643.7},{"x":856,"y":641.3},{"x":948,"y":631},{"x":873.8,"y":616.1},{"x":888.1,"y":608.9},{"x":896,"y":602.2},{"x":909.4,"y":603},{"x":912.4,"y":597},{"x":922.3,"y":600.1},{"x":912.4,"y":588.5}]},"mark":"point"},
{"data":{"values":[{"x":834.5,"x2":929.6,"y":586}]},"mark":{"type":"rule","color":"#000","strokeWidth":6},"encoding":{"x2":{"field":"x2"}}},
{"data":{"values":[{"x":841,"x2":846,"y":586},{"x":852.7,"x2":858,"y":586},{"x":882,"x2":905.4,"y":586}]},"mark":{"type":"rule","color":"#fff","strokeWidth":4},"encoding":{"x2":{"field":"x2"}}},
{"data":{"values":[{"x":837,"y":595,"t":"0"},{"x":846.6,"y":595,"t":"0.1"},{"x":862.4,"y":595,"t":"0.3"},{"x":883.5,"y":595,"t":"0.6"},{"x":902.6,"y":595,"t":"0.9"},{"x":923.4,"y":595,"t":"1.2"},{"x":855,"y":578,"t":"Kilometres"}]},"mark":{"type":"text","font":"Liberation Sans","fontSize":11},"encoding":{"text":{"field":"t"}}},
{"data":{"values":[{"x":858,"y":762,"t":"Zone 1"}]},"mark":"text","encoding":{"text":{"field":"t"}}},
{"data":{"values":[{"x":1028,"y":742}]},"layer":[{"mark":{"type":"text","text":"N","dy":-24,"font":"Liberation Sans","fontWeight":"normal","fontSize":15}},{"mark":{"type":"point","shape":"M0,-.95L-.7,.95L0,.4Z","size":900}},{"mark":{"type":"point","shape":"M0,-.95L.7,.95L0,.4Z","size":900,"filled":false,"stroke":"#000","strokeWidth":1}}]}
]},
{"width":320,"height":266,"encoding":{"x":{"field":"x","type":"quantitative","scale":{"domain":[1034,1161.2],"nice":false,"zero":false},"axis":{"values":[1050,1080,1110,1144.5],"labelExpr":"lx2[round(datum.index*3)]","labelFontSize":12}},"y":{"field":"y","type":"quantitative","scale":{"domain":[502.7,610.9],"nice":false,"zero":false},"axis":{"values":[600,570,540,511.4],"labelExpr":"ly2[round(datum.index*3)]"}}},"layer":[
{"encoding":{"fill":{"field":"c","type":"nominal","scale":{"domain":[1,2,3,4]},"legend":{"legendX":187,"legendY":0,"rowPadding":-3,"titlePadding":-3,"title":"Pb (mg/kg)","titleAnchor":"middle","labelExpr":"['0 - 48.02','48.03 - 101.91','101.92 - 145.03','145.04 - 249.88'][datum.value-1]"}},"detail":{"field":"s"},"order":{"value":null}},"layer":[
{"data":{"values":[{"s":1,"c":3,"x":1070.3,"y":595.1},{"s":1,"c":3,"x":1094.1,"y":571.4},{"s":1,"c":3,"x":1115.3,"y":528.7},{"s":1,"c":3,"x":1071.2,"y":518.8},{"s":1,"c":3,"x":1038.5,"y":554.6},{"s":1,"c":3,"x":1044,"y":585.3},{"s":1,"c":3,"x":1065.2,"y":593.7},
{"s":2,"c":2,"x":1092.8,"y":568.9},{"s":2,"c":2,"x":1094.8,"y":570.3},{"s":2,"c":2,"x":1101.1,"y":558.3},{"s":2,"c":2,"x":1115.3,"y":528.7},{"s":2,"c":2,"x":1076.9,"y":520.1},{"s":2,"c":2,"x":1067.6,"y":523.9},{"s":2,"c":2,"x":1055,"y":538.2},{"s":2,"c":2,"x":1070.3,"y":547.1},{"s":2,"c":2,"x":1079.5,"y":550.9},{"s":2,"c":2,"x":1088.8,"y":552.5},{"s":2,"c":2,"x":1094.1,"y":559.3},{"s":2,"c":2,"x":1095.4,"y":563.4},
{"s":3,"c":1,"x":1096.1,"y":557.3},{"s":3,"c":1,"x":1100.1,"y":558.7},{"s":3,"c":1,"x":1115.3,"y":528.7},{"s":3,"c":1,"x":1088.2,"y":522.8},{"s":3,"c":1,"x":1082.2,"y":528.7},{"s":3,"c":1,"x":1076.9,"y":532.8},{"s":3,"c":1,"x":1067.6,"y":533.4},{"s":3,"c":1,"x":1064,"y":536.8},{"s":3,"c":1,"x":1066.3,"y":540.9},{"s":3,"c":1,"x":1070.3,"y":545.7},{"s":3,"c":1,"x":1078.2,"y":547.1},{"s":3,"c":1,"x":1087.5,"y":548.4},{"s":3,"c":1,"x":1091.5,"y":552.5},
{"s":4,"c":4,"x":1044,"y":585.3},{"s":4,"c":4,"x":1051.1,"y":587.7},{"s":4,"c":4,"x":1052.4,"y":583.2},{"s":4,"c":4,"x":1059.7,"y":580.5},{"s":4,"c":4,"x":1076.9,"y":580.5},{"s":4,"c":4,"x":1082.2,"y":575.7},{"s":4,"c":4,"x":1082.9,"y":569.6},{"s":4,"c":4,"x":1087.5,"y":563.5},{"s":4,"c":4,"x":1088.4,"y":558},{"s":4,"c":4,"x":1085.5,"y":553.2},{"s":4,"c":4,"x":1079.5,"y":553.9},{"s":4,"c":4,"x":1072.9,"y":555.3},{"s":4,"c":4,"x":1067.6,"y":547.1},{"s":4,"c":4,"x":1059,"y":545.7},{"s":4,"c":4,"x":1052.4,"y":549.8},{"s":4,"c":4,"x":1047.5,"y":556},{"s":4,"c":4,"x":1049.1,"y":561.4},{"s":4,"c":4,"x":1041.1,"y":566.9},
{"s":5,"c":4,"x":1039.1,"y":554.6},{"s":5,"c":4,"x":1043.8,"y":554.2},{"s":5,"c":4,"x":1042.4,"y":551.4}]},"mark":{"type":"line","stroke":null}},
{"data":{"values":[{"s":1,"c":4,"x":1039,"y":554.6},{"s":1,"c":4,"x":1041,"y":555},{"s":1,"c":4,"x":1042,"y":554},{"s":1,"c":4,"x":1040,"y":553.5}]},"mark":{"type":"line","stroke":null,"interpolate":"cardinal-closed"}}]},
{"data":{"values":[{"x":1070.3,"y":595.1},{"x":1065.4,"y":593.9},{"x":1044.2,"y":585.3},{"x":1090.4,"y":574.6},{"x":1091.3,"y":572.4},{"x":1093.9,"y":571.2},{"x":1078.1,"y":571.2},{"x":1082.5,"y":556.8},{"x":1039.8,"y":555.9},{"x":1038.7,"y":554.4},{"x":1098.5,"y":553.2},{"x":1056.8,"y":551.9},{"x":1061.5,"y":549.3},{"x":1068.3,"y":549.3},{"x":1050.7,"y":545.2},{"x":1063.9,"y":545.2},{"x":1073.6,"y":543},{"x":1080.7,"y":542.7},{"x":1090.9,"y":542.4},{"x":1068.6,"y":538.1},{"x":1107.6,"y":535.6},{"x":1115.5,"y":528.7},{"x":1071.2,"y":518.8}]},"mark":"point"},
{"data":{"values":[{"x":1102,"x2":1159.7,"y":511.6}]},"mark":{"type":"rule","color":"#000","strokeWidth":6},"encoding":{"x2":{"field":"x2"}}},
{"data":{"values":[{"x":1105.8,"x2":1109.4,"y":511.6},{"x":1113,"x2":1116.4,"y":511.6},{"x":1130.8,"x2":1144.9,"y":511.6}]},"mark":{"type":"rule","color":"#fff","strokeWidth":4},"encoding":{"x2":{"field":"x2"}}},
{"data":{"values":[{"x":1103.8,"y":516.4,"t":"0"},{"x":1109.4,"y":516.4,"t":"0.1"},{"x":1119,"y":516.4,"t":"0.3"},{"x":1131.6,"y":516.4,"t":"0.6"},{"x":1143,"y":516.4,"t":"0.9"},{"x":1156,"y":516.4,"t":"1.2"},{"x":1114.4,"y":507.2,"t":"Kilometres"}]},"mark":{"type":"text","font":"Liberation Sans","fontSize":11},"encoding":{"text":{"field":"t"}}},
{"data":{"values":[{"x":1079.5,"y":603,"t":"Zone 2"}]},"mark":"text","encoding":{"text":{"field":"t"}}},
{"data":{"values":[{"x":1041,"y":593.5}]},"layer":[{"mark":{"type":"text","text":"N","dy":-24,"font":"Liberation Sans","fontWeight":"normal","fontSize":15}},{"mark":{"type":"point","shape":"M0,-.95L-.7,.95L0,.4Z","size":900}},{"mark":{"type":"point","shape":"M0,-.95L.7,.95L0,.4Z","size":900,"filled":false,"stroke":"#000","strokeWidth":1}}]}
]},
{"width":320,"height":266,"encoding":{"x":{"field":"x","type":"quantitative","scale":{"domain":[879.8,977.7],"nice":false,"zero":false},"axis":{"values":[900,930,960],"labelExpr":"lx3[round(datum.index*2)]","labelFontSize":10}},"y":{"field":"y","type":"quantitative","scale":{"domain":[443.4,516],"nice":false,"zero":false},"axis":{"values":[510,480,450],"labelExpr":"ly3[round(datum.index*2)]","labelFontSize":10}}},"layer":[
{"encoding":{"fill":{"field":"c","type":"nominal","scale":{"domain":[1,2,3,4]},"legend":{"legendX":1,"legendY":3,"title":"Pb (mg/kg)","titleFontSize":14,"titlePadding":6,"labelFontSize":14,"rowPadding":0,"symbolSize":30,"symbolOffset":2.7,"labelOffset":-1,"labelExpr":"['22 - 38.2','38.21 - 48.61','48.62 - 60.18','60.19 - 81'][datum.value-1]"}},"detail":{"field":"s"},"order":{"value":null}},"layer":[
{"data":{"values":[{"s":1,"c":2,"x":923.3,"y":495.8},{"s":1,"c":2,"x":971.6,"y":481.4},{"s":1,"c":2,"x":933,"y":466.4},{"s":1,"c":2,"x":909.8,"y":464.4},{"s":1,"c":2,"x":885,"y":480.5},
{"s":2,"c":3,"x":898.2,"y":484.6},{"s":2,"c":3,"x":911,"y":490.9},{"s":2,"c":3,"x":923.3,"y":495.6},{"s":2,"c":3,"x":937,"y":490.9},{"s":2,"c":3,"x":934,"y":481.4},{"s":2,"c":3,"x":932.4,"y":475.9},{"s":2,"c":3,"x":924.8,"y":473.2},{"s":2,"c":3,"x":917.1,"y":475.9},{"s":2,"c":3,"x":911,"y":478.6},{"s":2,"c":3,"x":901.8,"y":482.7}]},"mark":{"type":"line","stroke":null}},
{"data":{"values":[{"s":1,"c":1,"x":894.2,"y":477.3},{"s":1,"c":1,"x":900.3,"y":482.7},{"s":1,"c":1,"x":907.3,"y":480},{"s":1,"c":1,"x":904.9,"y":471.8},{"s":1,"c":1,"x":897.2,"y":473.2},
{"s":2,"c":1,"x":927.2,"y":474.5},{"s":2,"c":1,"x":932.4,"y":471.8},{"s":2,"c":1,"x":936,"y":467},{"s":2,"c":1,"x":930.9,"y":467.7},
{"s":3,"c":1,"x":933.3,"y":488.2},{"s":3,"c":1,"x":937.9,"y":491},{"s":3,"c":1,"x":942.5,"y":488.2},{"s":3,"c":1,"x":937.9,"y":482.7},
{"s":4,"c":4,"x":922.6,"y":481.4},{"s":4,"c":4,"x":926.3,"y":485.8},{"s":4,"c":4,"x":930,"y":481.4},{"s":4,"c":4,"x":926.3,"y":477},
{"s":5,"c":4,"x":894.5,"y":485.5},{"s":5,"c":4,"x":896,"y":487},{"s":5,"c":4,"x":897.5,"y":485.5},{"s":5,"c":4,"x":896,"y":484},
{"s":6,"c":3,"x":945,"y":486.8},{"s":6,"c":3,"x":949.3,"y":487.5},{"s":6,"c":3,"x":953.6,"y":486},{"s":6,"c":3,"x":949.3,"y":483.3},
{"s":7,"c":1,"x":961.5,"y":484.1},{"s":7,"c":1,"x":965.2,"y":485.2},{"s":7,"c":1,"x":968.5,"y":483.3},{"s":7,"c":1,"x":965.2,"y":481.9}]},"mark":{"type":"line","stroke":null,"interpolate":"cardinal-closed"}}]},
{"data":{"values":[{"x":923.8,"y":495.8},{"x":921,"y":490.6},{"x":938.5,"y":488},{"x":948.7,"y":487.5},{"x":897.3,"y":485.5},{"x":893.8,"y":484.2},{"x":914.2,"y":483.9},{"x":966,"y":485.3},{"x":922.3,"y":481.5},{"x":926.8,"y":480.4},{"x":885,"y":479.9},{"x":971.5,"y":481.7},{"x":905.5,"y":478.1},{"x":912.3,"y":477},{"x":900.8,"y":476.2},{"x":917.7,"y":476.2},{"x":953.7,"y":478.7},{"x":929.8,"y":472.6},{"x":933.3,"y":466.8},{"x":910.5,"y":464.3}]},"mark":{"type":"point","size":64}},
{"data":{"values":[{"x":929.7,"x2":974,"y":451.6}]},"mark":{"type":"rule","color":"#000","strokeWidth":6},"encoding":{"x2":{"field":"x2"}}},
{"data":{"values":[{"x":932.5,"x2":935,"y":451.6},{"x":938,"x2":940.4,"y":451.6},{"x":949.6,"x2":960,"y":451.6}]},"mark":{"type":"rule","color":"#fff","strokeWidth":4},"encoding":{"x2":{"field":"x2"}}},
{"data":{"values":[{"x":931,"y":454.9,"t":"0"},{"x":935.2,"y":454.9,"t":"0.1"},{"x":942,"y":454.9,"t":"0.3"},{"x":952,"y":454.9,"t":"0.6"},{"x":961,"y":454.9,"t":"0.9"},{"x":971,"y":454.9,"t":"1.2"},{"x":938.9,"y":448.6,"t":"Kilometres"}]},"mark":{"type":"text","font":"Liberation Sans","fontSize":11},"encoding":{"text":{"field":"t"}}},
{"data":{"values":[{"x":925.7,"y":511,"t":"Zone 3"}]},"mark":"text","encoding":{"text":{"field":"t"}}},
{"data":{"values":[{"x":972.5,"y":507}]},"layer":[{"mark":{"type":"text","text":"N","dy":-24,"font":"Liberation Sans","fontWeight":"normal","fontSize":15}},{"mark":{"type":"point","shape":"M0,-.95L-.7,.95L0,.4Z","size":900}},{"mark":{"type":"point","shape":"M0,-.95L.7,.95L0,.4Z","size":900,"filled":false,"stroke":"#000","strokeWidth":1}}]}
]}
]}
